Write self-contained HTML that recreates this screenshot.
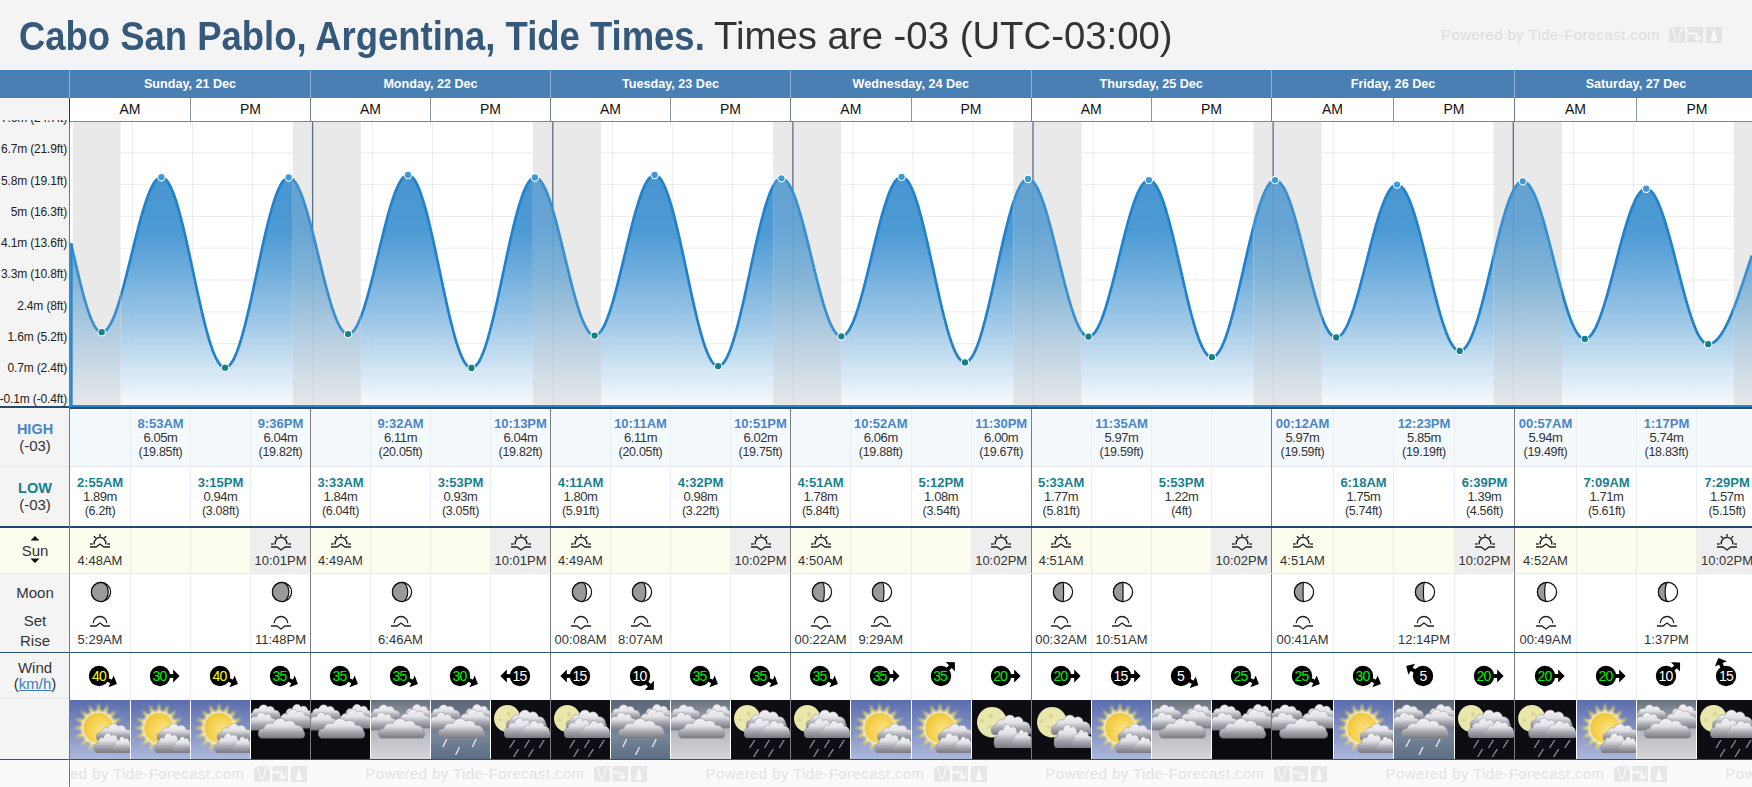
<!DOCTYPE html>
<html><head><meta charset="utf-8"><style>
html,body{margin:0;padding:0}
body{width:1752px;height:787px;overflow:hidden;position:relative;background:#f4f4f4;font-family:"Liberation Sans", sans-serif}
.t{position:absolute;text-align:center;white-space:nowrap}
svg{display:block}
</style></head><body>
<svg width="0" height="0" style="position:absolute">
<defs>
<linearGradient id="gA" x1="0" y1="0" x2="0" y2="1"><stop offset="0" stop-color="#5a6dae"/><stop offset="1" stop-color="#acb7db"/></linearGradient>
<linearGradient id="gG" x1="0" y1="0" x2="0" y2="1"><stop offset="0" stop-color="#66707e"/><stop offset="0.45" stop-color="#b3b5bc"/><stop offset="1" stop-color="#d6d6da"/></linearGradient>
<linearGradient id="gR" x1="0" y1="0" x2="0" y2="1"><stop offset="0" stop-color="#5c6777"/><stop offset="0.6" stop-color="#75879b"/><stop offset="1" stop-color="#5e6d81"/></linearGradient>
<filter id="blur1" x="-50%" y="-50%" width="200%" height="200%"><feGaussianBlur stdDeviation="0.9"/></filter><filter id="blur2" x="-50%" y="-50%" width="200%" height="200%"><feGaussianBlur stdDeviation="1.3"/></filter>
<radialGradient id="gS" cx="0.62" cy="0.6" r="0.65"><stop offset="0" stop-color="#fbe589"/><stop offset="1" stop-color="#f1c634"/></radialGradient>
<radialGradient id="gGlow" cx="0.5" cy="0.5" r="0.5"><stop offset="0.55" stop-color="#fff" stop-opacity="0.95"/><stop offset="0.75" stop-color="#fff6c0" stop-opacity="0.55"/><stop offset="1" stop-color="#fff6c0" stop-opacity="0"/></radialGradient>
<linearGradient id="gCl" x1="0" y1="0" x2="0" y2="1"><stop offset="0" stop-color="#f3f3f7"/><stop offset="0.38" stop-color="#e2e2e8"/><stop offset="0.66" stop-color="#a9aab1"/><stop offset="1" stop-color="#77787f"/></linearGradient>
<symbol id="cloud" viewBox="0 0 48 20" preserveAspectRatio="none">
<path d="M5,20 C1.5,20 0,17 0.5,14.5 C1,12 3,11 6,11 C7,7 11,5 15,6.5 C17,1.5 25,0 28,4.5 C31,2.5 37,3.5 38,8 C42,7.5 46,10 46,13.5 C48,15 48,20 43,20 Z" fill="url(#gCl)" stroke="#8c8c94" stroke-width="0.5"/>
</symbol>
<symbol id="clouds3" viewBox="0 0 60 40">
<use href="#cloud" x="-3" y="3" width="34" height="18"/>
<use href="#cloud" x="31" y="2.5" width="34" height="20"/>
<use href="#cloud" x="-5" y="10.5" width="33" height="20"/>
<use href="#cloud" x="25" y="7.5" width="38" height="21"/>
<use href="#cloud" x="7" y="16.5" width="48.5" height="22"/>
</symbol>
<symbol id="wA" viewBox="0 0 60 59">
<rect width="60" height="59" fill="url(#gA)"/>
<g transform="translate(28.5,28)">
<path d="M-2.54,-14.78 L0.00,-25.00 L2.54,-14.78 Z M3.31,-14.63 L9.57,-23.10 L8.00,-12.69 Z M8.66,-12.25 L17.68,-17.68 L12.25,-8.66 Z M12.69,-8.00 L23.10,-9.57 L14.63,-3.31 Z M14.78,-2.54 L25.00,0.00 L14.78,2.54 Z M14.63,3.31 L23.10,9.57 L12.69,8.00 Z M12.25,8.66 L17.68,17.68 L8.66,12.25 Z M8.00,12.69 L9.57,23.10 L3.31,14.63 Z M2.54,14.78 L0.00,25.00 L-2.54,14.78 Z M-3.31,14.63 L-9.57,23.10 L-8.00,12.69 Z M-8.66,12.25 L-17.68,17.68 L-12.25,8.66 Z M-12.69,8.00 L-23.10,9.57 L-14.63,3.31 Z M-14.78,2.54 L-25.00,0.00 L-14.78,-2.54 Z M-14.63,-3.31 L-23.10,-9.57 L-12.69,-8.00 Z M-12.25,-8.66 L-17.68,-17.68 L-8.66,-12.25 Z M-8.00,-12.69 L-9.57,-23.10 L-3.31,-14.63 Z" fill="#f2dc5a" filter="url(#blur1)"/>
<circle r="17" fill="#fffbe0" opacity="0.8" filter="url(#blur2)"/>
<circle r="15" fill="url(#gS)"/>
</g>
<use href="#cloud" x="26" y="22" width="38" height="19"/>
<use href="#cloud" x="24" y="31" width="30" height="22"/>
<use href="#cloud" x="42" y="35" width="22" height="18"/>
</symbol>
<symbol id="wN" viewBox="0 0 60 59">
<rect width="60" height="59" fill="#0a0b10"/>
<use href="#clouds3" x="0" y="0" width="60" height="40"/>
</symbol>
<symbol id="wG" viewBox="0 0 60 59">
<rect width="60" height="59" fill="url(#gG)"/>
<use href="#clouds3" x="0" y="0" width="60" height="40"/>
</symbol>
<symbol id="wR" viewBox="0 0 60 59">
<rect width="60" height="59" fill="url(#gR)"/>
<use href="#clouds3" x="0" y="0" width="60" height="40"/>
<g stroke="#ece6f2" stroke-width="1.4"><path d="M16,39 L12,47"/><path d="M29,47 L25,55"/><path d="M46,39 L42,47"/></g>
</symbol>
<symbol id="wMR" viewBox="0 0 60 59">
<rect width="60" height="59" fill="#0d0d13"/>
<circle cx="16.5" cy="18.5" r="13.4" fill="#e9e7ab"/>
<circle cx="9" cy="20" r="1.8" fill="#d8d69a"/><circle cx="18" cy="14" r="2.2" fill="#d8d69a"/>
<use href="#cloud" x="15" y="8" width="42" height="22"/>
<use href="#cloud" x="13" y="16" width="34" height="22"/>
<use href="#cloud" x="29" y="19" width="32" height="19"/>
<g stroke="#8d8a9e" stroke-width="1.4"><path d="M24,40 L19,48"/><path d="M39,40 L34,48"/><path d="M54,40 L49,48"/><path d="M28,49 L23,57"/><path d="M43,49 L38,57"/></g>
</symbol>
<symbol id="wMC" viewBox="0 0 60 59">
<rect width="60" height="59" fill="#0d0d13"/>
<circle cx="20.3" cy="22.2" r="15.2" fill="#e9e7ab"/>
<circle cx="10" cy="21" r="2" fill="#d8d69a"/><circle cx="19" cy="16" r="2.4" fill="#d8d69a"/><circle cx="17" cy="27" r="1.8" fill="#d8d69a"/>
<use href="#cloud" x="19" y="13" width="42" height="22"/>
<use href="#cloud" x="22" y="22" width="30" height="26"/>
<use href="#cloud" x="40" y="28" width="22" height="20"/>
</symbol>
</defs></svg>
<div class="t" style="left:19px;top:13px;height:46px;line-height:46px;text-align:left;white-space:nowrap;font-size:40px;font-weight:bold;color:#34597b;transform:scaleX(0.911);transform-origin:0 0">Cabo San Pablo, Argentina, Tide Times.</div>
<div class="t" style="left:714px;top:12px;height:46px;line-height:46px;text-align:left;white-space:nowrap;font-size:39.4px;color:#333;transform:scaleX(0.973);transform-origin:0 0">Times are -03 (UTC-03:00)</div>
<div class="t" style="left:1441px;top:26px;height:18px;line-height:18px;text-align:left;white-space:nowrap;font-size:15px;letter-spacing:0.4px;color:#dddddd">Powered by Tide-Forecast.com</div><svg style="position:absolute;left:1669px;top:27px" width="54" height="16" viewBox="0 0 54 16"><rect x="0" y="0" width="16" height="15.5" fill="#e3e3e3"/><rect x="18.5" y="0" width="15.5" height="15.5" fill="#e3e3e3"/><rect x="37" y="0" width="16" height="16" fill="#e3e3e3"/><path d="M0.8,1.5 C2,-0.5 3,0 4,3 L6.5,12 C7.5,14.5 8.5,14.5 9.5,12 L11.5,4 C12.5,0.5 14,0.5 15,4" fill="none" stroke="#fafafa" stroke-width="1.1"/><path d="M19,6.5 H26 C28,6.5 28.5,7.5 28.5,9 V11" fill="none" stroke="#fafafa" stroke-width="2"/><path d="M25.5,10 L28.5,13 L31.5,10" fill="none" stroke="#fafafa" stroke-width="1.8"/><path d="M45,1.5 L48.5,14 H41.5 Z" fill="#fafafa"/></svg>
<div style="position:absolute;left:0px;top:70px;width:1752px;height:28px;background:#4a7fb4"></div>
<div style="position:absolute;left:69px;top:70px;width:1px;height:28px;background:#8fb0d2"></div>
<div style="position:absolute;left:310px;top:70px;width:1px;height:28px;background:#8fb0d2"></div>
<div style="position:absolute;left:550px;top:70px;width:1px;height:28px;background:#8fb0d2"></div>
<div style="position:absolute;left:790px;top:70px;width:1px;height:28px;background:#8fb0d2"></div>
<div style="position:absolute;left:1031px;top:70px;width:1px;height:28px;background:#8fb0d2"></div>
<div style="position:absolute;left:1271px;top:70px;width:1px;height:28px;background:#8fb0d2"></div>
<div style="position:absolute;left:1514px;top:70px;width:1px;height:28px;background:#8fb0d2"></div>
<div style="position:absolute;left:1757px;top:70px;width:1px;height:28px;background:#8fb0d2"></div>
<div class="t" style="left:90.0px;top:76.0px;width:200px;height:16px;line-height:16px;color:#fff;font-weight:bold;font-size:12.6px">Sunday, 21 Dec</div>
<div class="t" style="left:330.5px;top:76.0px;width:200px;height:16px;line-height:16px;color:#fff;font-weight:bold;font-size:12.6px">Monday, 22 Dec</div>
<div class="t" style="left:570.5px;top:76.0px;width:200px;height:16px;line-height:16px;color:#fff;font-weight:bold;font-size:12.6px">Tuesday, 23 Dec</div>
<div class="t" style="left:810.8px;top:76.0px;width:200px;height:16px;line-height:16px;color:#fff;font-weight:bold;font-size:12.6px">Wednesday, 24 Dec</div>
<div class="t" style="left:1051.2px;top:76.0px;width:200px;height:16px;line-height:16px;color:#fff;font-weight:bold;font-size:12.6px">Thursday, 25 Dec</div>
<div class="t" style="left:1293.0px;top:76.0px;width:200px;height:16px;line-height:16px;color:#fff;font-weight:bold;font-size:12.6px">Friday, 26 Dec</div>
<div class="t" style="left:1536.0px;top:76.0px;width:200px;height:16px;line-height:16px;color:#fff;font-weight:bold;font-size:12.6px">Saturday, 27 Dec</div>
<div style="position:absolute;left:70px;top:98px;width:1682px;height:23px;background:#fff"></div>
<div style="position:absolute;left:69px;top:98px;width:1px;height:23px;background:#6f7f8f"></div>
<div style="position:absolute;left:190px;top:98px;width:1px;height:23px;background:#8797a7"></div>
<div style="position:absolute;left:310px;top:98px;width:1px;height:23px;background:#6f7f8f"></div>
<div style="position:absolute;left:430px;top:98px;width:1px;height:23px;background:#8797a7"></div>
<div style="position:absolute;left:550px;top:98px;width:1px;height:23px;background:#6f7f8f"></div>
<div style="position:absolute;left:670px;top:98px;width:1px;height:23px;background:#8797a7"></div>
<div style="position:absolute;left:790px;top:98px;width:1px;height:23px;background:#6f7f8f"></div>
<div style="position:absolute;left:911px;top:98px;width:1px;height:23px;background:#8797a7"></div>
<div style="position:absolute;left:1031px;top:98px;width:1px;height:23px;background:#6f7f8f"></div>
<div style="position:absolute;left:1151px;top:98px;width:1px;height:23px;background:#8797a7"></div>
<div style="position:absolute;left:1271px;top:98px;width:1px;height:23px;background:#6f7f8f"></div>
<div style="position:absolute;left:1393px;top:98px;width:1px;height:23px;background:#8797a7"></div>
<div style="position:absolute;left:1514px;top:98px;width:1px;height:23px;background:#6f7f8f"></div>
<div style="position:absolute;left:1636px;top:98px;width:1px;height:23px;background:#8797a7"></div>
<div style="position:absolute;left:1757px;top:98px;width:1px;height:23px;background:#6f7f8f"></div>
<div class="t" style="left:100.0px;top:100.8px;width:60px;height:16px;line-height:16px;color:#111;font-size:14px">AM</div>
<div class="t" style="left:220.5px;top:100.8px;width:60px;height:16px;line-height:16px;color:#111;font-size:14px">PM</div>
<div class="t" style="left:340.5px;top:100.8px;width:60px;height:16px;line-height:16px;color:#111;font-size:14px">AM</div>
<div class="t" style="left:460.5px;top:100.8px;width:60px;height:16px;line-height:16px;color:#111;font-size:14px">PM</div>
<div class="t" style="left:580.5px;top:100.8px;width:60px;height:16px;line-height:16px;color:#111;font-size:14px">AM</div>
<div class="t" style="left:700.5px;top:100.8px;width:60px;height:16px;line-height:16px;color:#111;font-size:14px">PM</div>
<div class="t" style="left:820.8px;top:100.8px;width:60px;height:16px;line-height:16px;color:#111;font-size:14px">AM</div>
<div class="t" style="left:941.0px;top:100.8px;width:60px;height:16px;line-height:16px;color:#111;font-size:14px">PM</div>
<div class="t" style="left:1061.2px;top:100.8px;width:60px;height:16px;line-height:16px;color:#111;font-size:14px">AM</div>
<div class="t" style="left:1181.5px;top:100.8px;width:60px;height:16px;line-height:16px;color:#111;font-size:14px">PM</div>
<div class="t" style="left:1302.5px;top:100.8px;width:60px;height:16px;line-height:16px;color:#111;font-size:14px">AM</div>
<div class="t" style="left:1424.0px;top:100.8px;width:60px;height:16px;line-height:16px;color:#111;font-size:14px">PM</div>
<div class="t" style="left:1545.5px;top:100.8px;width:60px;height:16px;line-height:16px;color:#111;font-size:14px">AM</div>
<div class="t" style="left:1667.0px;top:100.8px;width:60px;height:16px;line-height:16px;color:#111;font-size:14px">PM</div>
<div style="position:absolute;left:69px;top:121px;width:1683px;height:1px;background:#858585"></div>
<svg style="position:absolute;left:0;top:122px" width="1752" height="286" viewBox="0 122 1752 286">
<defs><linearGradient id="tg" gradientUnits="userSpaceOnUse" x1="0" y1="170" x2="0" y2="406"><stop offset="0.03" stop-color="#3b8ecf"/><stop offset="0.254" stop-color="#3f92d0"/><stop offset="0.39" stop-color="#5ba2d8"/><stop offset="0.66" stop-color="#9cc6e6"/><stop offset="0.847" stop-color="#cfe4f3"/><stop offset="1" stop-color="#f7fafe"/></linearGradient><linearGradient id="ng" gradientUnits="userSpaceOnUse" x1="0" y1="180" x2="0" y2="406"><stop offset="0" stop-color="#589cd0"/><stop offset="0.22" stop-color="#5fa0d2"/><stop offset="0.44" stop-color="#7db1d6"/><stop offset="0.66" stop-color="#aac8de"/><stop offset="0.885" stop-color="#d4dee6"/><stop offset="1" stop-color="#e6e8ea"/></linearGradient><clipPath id="nc"><rect x="72.90" y="122" width="47.63" height="286"/><rect x="292.78" y="122" width="68.04" height="286"/><rect x="532.91" y="122" width="68.04" height="286"/><rect x="773.20" y="122" width="68.04" height="286"/><rect x="1013.33" y="122" width="68.20" height="286"/><rect x="1253.46" y="122" width="68.20" height="286"/><rect x="1493.59" y="122" width="68.37" height="286"/><rect x="1733.71" y="122" width="18.29" height="286"/></clipPath><clipPath id="dc"><rect x="120.53" y="122" width="172.26" height="286"/><rect x="360.82" y="122" width="172.09" height="286"/><rect x="600.95" y="122" width="172.26" height="286"/><rect x="841.24" y="122" width="172.09" height="286"/><rect x="1081.53" y="122" width="171.92" height="286"/><rect x="1321.66" y="122" width="171.92" height="286"/><rect x="1561.96" y="122" width="171.76" height="286"/><rect x="60" y="122" width="12.90" height="286"/></clipPath></defs>
<rect x="70" y="122" width="1682" height="284" fill="#fff"/>
<line x1="72" x2="1752" y1="375.4" y2="375.4" stroke="#000" stroke-opacity="0.075" stroke-width="1"/>
<line x1="72" x2="1752" y1="343.6" y2="343.6" stroke="#000" stroke-opacity="0.075" stroke-width="1"/>
<line x1="72" x2="1752" y1="311.8" y2="311.8" stroke="#000" stroke-opacity="0.075" stroke-width="1"/>
<line x1="72" x2="1752" y1="280.0" y2="280.0" stroke="#000" stroke-opacity="0.075" stroke-width="1"/>
<line x1="72" x2="1752" y1="248.2" y2="248.2" stroke="#000" stroke-opacity="0.075" stroke-width="1"/>
<line x1="72" x2="1752" y1="216.4" y2="216.4" stroke="#000" stroke-opacity="0.075" stroke-width="1"/>
<line x1="72" x2="1752" y1="184.6" y2="184.6" stroke="#000" stroke-opacity="0.075" stroke-width="1"/>
<line x1="72" x2="1752" y1="152.8" y2="152.8" stroke="#000" stroke-opacity="0.075" stroke-width="1"/>
<line x1="72" x2="1752" y1="121.0" y2="121.0" stroke="#000" stroke-opacity="0.075" stroke-width="1"/>
<line x1="132.5" x2="132.5" y1="122" y2="406" stroke="#000" stroke-opacity="0.075" stroke-width="1"/>
<line x1="192.6" x2="192.6" y1="122" y2="406" stroke="#000" stroke-opacity="0.075" stroke-width="1"/>
<line x1="252.6" x2="252.6" y1="122" y2="406" stroke="#000" stroke-opacity="0.075" stroke-width="1"/>
<line x1="372.7" x2="372.7" y1="122" y2="406" stroke="#000" stroke-opacity="0.075" stroke-width="1"/>
<line x1="432.7" x2="432.7" y1="122" y2="406" stroke="#000" stroke-opacity="0.075" stroke-width="1"/>
<line x1="492.7" x2="492.7" y1="122" y2="406" stroke="#000" stroke-opacity="0.075" stroke-width="1"/>
<line x1="612.8" x2="612.8" y1="122" y2="406" stroke="#000" stroke-opacity="0.075" stroke-width="1"/>
<line x1="672.8" x2="672.8" y1="122" y2="406" stroke="#000" stroke-opacity="0.075" stroke-width="1"/>
<line x1="732.8" x2="732.8" y1="122" y2="406" stroke="#000" stroke-opacity="0.075" stroke-width="1"/>
<line x1="852.9" x2="852.9" y1="122" y2="406" stroke="#000" stroke-opacity="0.075" stroke-width="1"/>
<line x1="912.9" x2="912.9" y1="122" y2="406" stroke="#000" stroke-opacity="0.075" stroke-width="1"/>
<line x1="973.0" x2="973.0" y1="122" y2="406" stroke="#000" stroke-opacity="0.075" stroke-width="1"/>
<line x1="1093.0" x2="1093.0" y1="122" y2="406" stroke="#000" stroke-opacity="0.075" stroke-width="1"/>
<line x1="1153.1" x2="1153.1" y1="122" y2="406" stroke="#000" stroke-opacity="0.075" stroke-width="1"/>
<line x1="1213.1" x2="1213.1" y1="122" y2="406" stroke="#000" stroke-opacity="0.075" stroke-width="1"/>
<line x1="1333.2" x2="1333.2" y1="122" y2="406" stroke="#000" stroke-opacity="0.075" stroke-width="1"/>
<line x1="1393.2" x2="1393.2" y1="122" y2="406" stroke="#000" stroke-opacity="0.075" stroke-width="1"/>
<line x1="1453.2" x2="1453.2" y1="122" y2="406" stroke="#000" stroke-opacity="0.075" stroke-width="1"/>
<line x1="1573.3" x2="1573.3" y1="122" y2="406" stroke="#000" stroke-opacity="0.075" stroke-width="1"/>
<line x1="1633.3" x2="1633.3" y1="122" y2="406" stroke="#000" stroke-opacity="0.075" stroke-width="1"/>
<line x1="1693.4" x2="1693.4" y1="122" y2="406" stroke="#000" stroke-opacity="0.075" stroke-width="1"/>
<rect x="72.90" y="122" width="47.63" height="284" fill="#e9e9e9"/>
<rect x="292.78" y="122" width="68.04" height="284" fill="#e9e9e9"/>
<rect x="532.91" y="122" width="68.04" height="284" fill="#e9e9e9"/>
<rect x="773.20" y="122" width="68.04" height="284" fill="#e9e9e9"/>
<rect x="1013.33" y="122" width="68.20" height="284" fill="#e9e9e9"/>
<rect x="1253.46" y="122" width="68.20" height="284" fill="#e9e9e9"/>
<rect x="1493.59" y="122" width="68.37" height="284" fill="#e9e9e9"/>
<rect x="1733.71" y="122" width="18.29" height="284" fill="#e9e9e9"/>
<line x1="312.6" x2="312.6" y1="122" y2="406" stroke="#566f88" stroke-width="1.3"/>
<line x1="552.8" x2="552.8" y1="122" y2="406" stroke="#566f88" stroke-width="1.3"/>
<line x1="792.9" x2="792.9" y1="122" y2="406" stroke="#566f88" stroke-width="1.3"/>
<line x1="1033.0" x2="1033.0" y1="122" y2="406" stroke="#566f88" stroke-width="1.3"/>
<line x1="1273.1" x2="1273.1" y1="122" y2="406" stroke="#566f88" stroke-width="1.3"/>
<line x1="1513.3" x2="1513.3" y1="122" y2="406" stroke="#566f88" stroke-width="1.3"/>
<g clip-path="url(#dc)"><path d="M71,406 L71.00,243.43 L73.00,252.03 L75.00,260.67 L77.00,269.24 L79.00,277.65 L81.01,285.77 L83.01,293.51 L85.01,300.77 L87.01,307.46 L89.01,313.48 L91.01,318.77 L93.01,323.25 L95.01,326.88 L97.01,329.60 L99.01,331.37 L101.02,332.19 L103.02,332.05 L105.02,331.05 L107.02,329.21 L109.02,326.53 L111.02,323.07 L113.02,318.84 L115.02,313.91 L117.02,308.32 L119.03,302.13 L121.03,295.42 L123.03,288.26 L125.03,280.72 L127.03,272.90 L129.03,264.87 L131.03,256.74 L133.03,248.58 L135.03,240.48 L137.03,232.55 L139.04,224.86 L141.04,217.50 L143.04,210.56 L145.04,204.10 L147.04,198.20 L149.04,192.93 L151.04,188.35 L153.04,184.50 L155.04,181.42 L157.05,179.16 L159.05,177.74 L161.05,177.17 L163.05,177.48 L165.05,178.71 L167.05,180.86 L169.05,183.90 L171.05,187.80 L173.05,192.52 L175.06,198.02 L177.06,204.24 L179.06,211.13 L181.06,218.61 L183.06,226.61 L185.06,235.07 L187.06,243.88 L189.06,252.97 L191.06,262.25 L193.06,271.63 L195.07,281.02 L197.07,290.33 L199.07,299.46 L201.07,308.32 L203.07,316.84 L205.07,324.92 L207.07,332.50 L209.07,339.49 L211.07,345.82 L213.08,351.44 L215.08,356.30 L217.08,360.33 L219.08,363.51 L221.08,365.81 L223.08,367.19 L225.08,367.66 L227.08,367.19 L229.08,365.80 L231.08,363.50 L233.09,360.31 L235.09,356.26 L237.09,351.39 L239.09,345.75 L241.09,339.39 L243.09,332.39 L245.09,324.79 L247.09,316.69 L249.09,308.15 L251.10,299.27 L253.10,290.13 L255.10,280.81 L257.10,271.41 L259.10,262.03 L261.10,252.75 L263.10,243.66 L265.10,234.86 L267.10,226.42 L269.10,218.44 L271.11,210.99 L273.11,204.13 L275.11,197.95 L277.11,192.50 L279.11,187.84 L281.11,184.00 L283.11,181.03 L285.11,178.95 L287.11,177.79 L289.12,177.56 L291.12,178.21 L293.12,179.73 L295.12,182.10 L297.12,185.28 L299.12,189.26 L301.12,193.97 L303.12,199.38 L305.12,205.41 L307.13,212.00 L309.13,219.09 L311.13,226.58 L313.13,234.40 L315.13,242.45 L317.13,250.66 L319.13,258.92 L321.13,267.15 L323.13,275.25 L325.13,283.13 L327.14,290.72 L329.14,297.91 L331.14,304.63 L333.14,310.81 L335.14,316.38 L337.14,321.27 L339.14,325.43 L341.14,328.82 L343.14,331.39 L345.15,333.13 L347.15,334.00 L349.15,333.99 L351.15,333.12 L353.15,331.38 L355.15,328.79 L357.15,325.38 L359.15,321.19 L361.15,316.27 L363.15,310.66 L365.16,304.44 L367.16,297.67 L369.16,290.42 L371.16,282.78 L373.16,274.82 L375.16,266.64 L377.16,258.33 L379.16,249.98 L381.16,241.67 L383.17,233.51 L385.17,225.58 L387.17,217.96 L389.17,210.75 L391.17,204.03 L393.17,197.85 L395.17,192.31 L397.17,187.44 L399.17,183.32 L401.17,179.98 L403.18,177.46 L405.18,175.80 L407.18,174.99 L409.18,175.08 L411.18,176.10 L413.18,178.06 L415.18,180.93 L417.18,184.69 L419.18,189.29 L421.19,194.70 L423.19,200.86 L425.19,207.71 L427.19,215.19 L429.19,223.21 L431.19,231.71 L433.19,240.60 L435.19,249.79 L437.19,259.19 L439.20,268.71 L441.20,278.26 L443.20,287.74 L445.20,297.06 L447.20,306.13 L449.20,314.87 L451.20,323.17 L453.20,330.98 L455.20,338.20 L457.20,344.77 L459.21,350.62 L461.21,355.69 L463.21,359.95 L465.21,363.33 L467.21,365.82 L469.21,367.39 L471.21,368.02 L473.21,367.70 L475.21,366.46 L477.22,364.29 L479.22,361.22 L481.22,357.28 L483.22,352.51 L485.22,346.96 L487.22,340.68 L489.22,333.73 L491.22,326.18 L493.22,318.11 L495.22,309.59 L497.23,300.70 L499.23,291.55 L501.23,282.21 L503.23,272.78 L505.23,263.34 L507.23,254.00 L509.23,244.85 L511.23,235.97 L513.23,227.45 L515.24,219.37 L517.24,211.82 L519.24,204.88 L521.24,198.59 L523.24,193.04 L525.24,188.27 L527.24,184.34 L529.24,181.27 L531.24,179.10 L533.24,177.86 L535.25,177.54 L537.25,178.12 L539.25,179.58 L541.25,181.88 L543.25,185.01 L545.25,188.94 L547.25,193.61 L549.25,198.98 L551.25,205.00 L553.26,211.58 L555.26,218.66 L557.26,226.16 L559.26,233.99 L561.26,242.08 L563.26,250.33 L565.26,258.65 L567.26,266.94 L569.26,275.12 L571.27,283.09 L573.27,290.77 L575.27,298.07 L577.27,304.91 L579.27,311.22 L581.27,316.91 L583.27,321.94 L585.27,326.25 L587.27,329.78 L589.27,332.50 L591.28,334.38 L593.28,335.40 L595.28,335.55 L597.28,334.81 L599.28,333.21 L601.28,330.75 L603.28,327.46 L605.28,323.38 L607.28,318.55 L609.29,313.04 L611.29,306.88 L613.29,300.17 L615.29,292.96 L617.29,285.34 L619.29,277.39 L621.29,269.19 L623.29,260.84 L625.29,252.44 L627.29,244.06 L629.30,235.81 L631.30,227.76 L633.30,220.02 L635.30,212.67 L637.30,205.78 L639.30,199.44 L641.30,193.70 L643.30,188.64 L645.30,184.31 L647.31,180.76 L649.31,178.03 L651.31,176.14 L653.31,175.11 L655.31,174.97 L657.31,175.75 L659.31,177.46 L661.31,180.08 L663.31,183.58 L665.31,187.94 L667.32,193.10 L669.32,199.02 L671.32,205.64 L673.32,212.90 L675.32,220.71 L677.32,229.02 L679.32,237.73 L681.32,246.77 L683.32,256.03 L685.33,265.44 L687.33,274.90 L689.33,284.31 L691.33,293.59 L693.33,302.65 L695.33,311.39 L697.33,319.73 L699.33,327.59 L701.33,334.89 L703.33,341.56 L705.34,347.54 L707.34,352.77 L709.34,357.19 L711.34,360.76 L713.34,363.45 L715.34,365.23 L717.34,366.09 L719.34,366.01 L721.34,365.00 L723.35,363.08 L725.35,360.25 L727.35,356.56 L729.35,352.04 L731.35,346.72 L733.35,340.67 L735.35,333.94 L737.35,326.61 L739.35,318.73 L741.36,310.40 L743.36,301.68 L745.36,292.68 L747.36,283.47 L749.36,274.16 L751.36,264.82 L753.36,255.56 L755.36,246.46 L757.36,237.61 L759.36,229.11 L761.37,221.04 L763.37,213.47 L765.37,206.48 L767.37,200.14 L769.37,194.51 L771.37,189.65 L773.37,185.61 L775.37,182.42 L777.37,180.13 L779.38,178.74 L781.38,178.27 L783.38,178.71 L785.38,180.00 L787.38,182.14 L789.38,185.11 L791.38,188.86 L793.38,193.37 L795.38,198.58 L797.38,204.43 L799.39,210.86 L801.39,217.79 L803.39,225.17 L805.39,232.89 L807.39,240.88 L809.39,249.05 L811.39,257.31 L813.39,265.57 L815.39,273.74 L817.40,281.73 L819.40,289.46 L821.40,296.83 L823.40,303.77 L825.40,310.19 L827.40,316.04 L829.40,321.25 L831.40,325.75 L833.40,329.51 L835.40,332.47 L837.41,334.62 L839.41,335.91 L841.41,336.34 L843.41,335.91 L845.41,334.61 L847.41,332.46 L849.41,329.48 L851.41,325.71 L853.41,321.19 L855.42,315.96 L857.42,310.08 L859.42,303.62 L861.42,296.65 L863.42,289.25 L865.42,281.48 L867.42,273.45 L869.42,265.23 L871.42,256.91 L873.43,248.60 L875.43,240.36 L877.43,232.31 L879.43,224.52 L881.43,217.08 L883.43,210.07 L885.43,203.56 L887.43,197.64 L889.43,192.35 L891.43,187.77 L893.44,183.93 L895.44,180.89 L897.44,178.67 L899.44,177.29 L901.44,176.79 L903.44,177.17 L905.44,178.45 L907.44,180.64 L909.44,183.70 L911.45,187.60 L913.45,192.32 L915.45,197.79 L917.45,203.97 L919.45,210.79 L921.45,218.19 L923.45,226.10 L925.45,234.44 L927.45,243.12 L929.45,252.06 L931.46,261.18 L933.46,270.37 L935.46,279.56 L937.46,288.66 L939.46,297.56 L941.46,306.19 L943.46,314.46 L945.46,322.29 L947.46,329.60 L949.47,336.33 L951.47,342.39 L953.47,347.74 L955.47,352.32 L957.47,356.09 L959.47,359.00 L961.47,361.04 L963.47,362.18 L965.47,362.41 L967.47,361.73 L969.48,360.14 L971.48,357.66 L973.48,354.32 L975.48,350.15 L977.48,345.19 L979.48,339.49 L981.48,333.10 L983.48,326.10 L985.48,318.55 L987.49,310.52 L989.49,302.09 L991.49,293.36 L993.49,284.39 L995.49,275.30 L997.49,266.15 L999.49,257.06 L1001.49,248.10 L1003.49,239.36 L1005.50,230.93 L1007.50,222.91 L1009.50,215.35 L1011.50,208.35 L1013.50,201.96 L1015.50,196.26 L1017.50,191.30 L1019.50,187.13 L1021.50,183.79 L1023.50,181.32 L1025.51,179.73 L1027.51,179.05 L1029.51,179.26 L1031.51,180.32 L1033.51,182.21 L1035.51,184.93 L1037.51,188.42 L1039.51,192.67 L1041.51,197.62 L1043.52,203.21 L1045.52,209.40 L1047.52,216.11 L1049.52,223.26 L1051.52,230.80 L1053.52,238.62 L1055.52,246.65 L1057.52,254.80 L1059.52,262.98 L1061.52,271.11 L1063.53,279.10 L1065.53,286.86 L1067.53,294.30 L1069.53,301.36 L1071.53,307.94 L1073.53,313.98 L1075.53,319.42 L1077.53,324.20 L1079.53,328.26 L1081.54,331.56 L1083.54,334.07 L1085.54,335.76 L1087.54,336.61 L1089.54,336.61 L1091.54,335.76 L1093.54,334.07 L1095.54,331.57 L1097.54,328.27 L1099.54,324.22 L1101.55,319.45 L1103.55,314.02 L1105.55,307.99 L1107.55,301.42 L1109.55,294.38 L1111.55,286.96 L1113.55,279.23 L1115.55,271.27 L1117.55,263.17 L1119.56,255.02 L1121.56,246.91 L1123.56,238.92 L1125.56,231.14 L1127.56,223.66 L1129.56,216.56 L1131.56,209.91 L1133.56,203.78 L1135.56,198.25 L1137.56,193.37 L1139.57,189.20 L1141.57,185.77 L1143.57,183.13 L1145.57,181.31 L1147.57,180.33 L1149.57,180.19 L1151.57,180.92 L1153.57,182.53 L1155.57,184.99 L1157.58,188.29 L1159.58,192.38 L1161.58,197.23 L1163.58,202.79 L1165.58,209.01 L1167.58,215.82 L1169.58,223.16 L1171.58,230.94 L1173.58,239.11 L1175.59,247.56 L1177.59,256.23 L1179.59,265.02 L1181.59,273.84 L1183.59,282.62 L1185.59,291.26 L1187.59,299.67 L1189.59,307.77 L1191.59,315.49 L1193.59,322.74 L1195.60,329.45 L1197.60,335.56 L1199.60,341.00 L1201.60,345.73 L1203.60,349.69 L1205.60,352.85 L1207.60,355.16 L1209.60,356.62 L1211.60,357.21 L1213.61,356.91 L1215.61,355.75 L1217.61,353.72 L1219.61,350.85 L1221.61,347.17 L1223.61,342.72 L1225.61,337.53 L1227.61,331.66 L1229.61,325.17 L1231.61,318.12 L1233.62,310.59 L1235.62,302.63 L1237.62,294.35 L1239.62,285.81 L1241.62,277.09 L1243.62,268.30 L1245.62,259.51 L1247.62,250.81 L1249.62,242.29 L1251.63,234.03 L1253.63,226.11 L1255.63,218.61 L1257.63,211.60 L1259.63,205.16 L1261.63,199.35 L1263.63,194.23 L1265.63,189.84 L1267.63,186.23 L1269.63,183.43 L1271.64,181.48 L1273.64,180.38 L1275.64,180.16 L1277.64,180.79 L1279.64,182.24 L1281.64,184.51 L1283.64,187.56 L1285.64,191.36 L1287.64,195.89 L1289.65,201.07 L1291.65,206.87 L1293.65,213.22 L1295.65,220.06 L1297.65,227.30 L1299.65,234.88 L1301.65,242.71 L1303.65,250.71 L1305.65,258.80 L1307.66,266.89 L1309.66,274.89 L1311.66,282.72 L1313.66,290.30 L1315.66,297.55 L1317.66,304.38 L1319.66,310.73 L1321.66,316.53 L1323.66,321.72 L1325.66,326.24 L1327.67,330.04 L1329.67,333.09 L1331.67,335.36 L1333.67,336.81 L1335.67,337.43 L1337.67,337.23 L1339.67,336.21 L1341.67,334.40 L1343.67,331.80 L1345.68,328.44 L1347.68,324.37 L1349.68,319.62 L1351.68,314.25 L1353.68,308.31 L1355.68,301.87 L1357.68,294.99 L1359.68,287.75 L1361.68,280.22 L1363.68,272.49 L1365.69,264.64 L1367.69,256.75 L1369.69,248.91 L1371.69,241.19 L1373.69,233.69 L1375.69,226.48 L1377.69,219.63 L1379.69,213.23 L1381.69,207.34 L1383.70,202.02 L1385.70,197.32 L1387.70,193.31 L1389.70,190.02 L1391.70,187.49 L1393.70,185.74 L1395.70,184.79 L1397.70,184.66 L1399.70,185.36 L1401.70,186.88 L1403.71,189.22 L1405.71,192.34 L1407.71,196.22 L1409.71,200.83 L1411.71,206.10 L1413.71,211.99 L1415.71,218.44 L1417.71,225.39 L1419.71,232.76 L1421.72,240.49 L1423.72,248.49 L1425.72,256.68 L1427.72,264.98 L1429.72,273.31 L1431.72,281.58 L1433.72,289.72 L1435.72,297.63 L1437.72,305.25 L1439.73,312.49 L1441.73,319.27 L1443.73,325.55 L1445.73,331.24 L1447.73,336.29 L1449.73,340.65 L1451.73,344.29 L1453.73,347.15 L1455.73,349.22 L1457.73,350.46 L1459.74,350.88 L1461.74,350.46 L1463.74,349.20 L1465.74,347.11 L1467.74,344.22 L1469.74,340.55 L1471.74,336.14 L1473.74,331.04 L1475.74,325.29 L1477.75,318.95 L1479.75,312.08 L1481.75,304.76 L1483.75,297.05 L1485.75,289.04 L1487.75,280.79 L1489.75,272.40 L1491.75,263.95 L1493.75,255.52 L1495.75,247.19 L1497.76,239.05 L1499.76,231.18 L1501.76,223.66 L1503.76,216.56 L1505.76,209.95 L1507.76,203.89 L1509.76,198.46 L1511.76,193.70 L1513.76,189.65 L1515.77,186.37 L1517.77,183.88 L1519.77,182.20 L1521.77,181.36 L1523.77,181.36 L1525.77,182.17 L1527.77,183.77 L1529.77,186.17 L1531.77,189.32 L1533.77,193.19 L1535.78,197.76 L1537.78,202.96 L1539.78,208.75 L1541.78,215.06 L1543.78,221.84 L1545.78,229.01 L1547.78,236.50 L1549.78,244.24 L1551.78,252.13 L1553.79,260.11 L1555.79,268.08 L1557.79,275.98 L1559.79,283.71 L1561.79,291.20 L1563.79,298.37 L1565.79,305.15 L1567.79,311.47 L1569.79,317.25 L1571.80,322.46 L1573.80,327.02 L1575.80,330.89 L1577.80,334.04 L1579.80,336.43 L1581.80,338.04 L1583.80,338.85 L1585.80,338.85 L1587.80,338.07 L1589.80,336.50 L1591.81,334.17 L1593.81,331.11 L1595.81,327.34 L1597.81,322.90 L1599.81,317.84 L1601.81,312.22 L1603.81,306.09 L1605.81,299.52 L1607.81,292.57 L1609.82,285.32 L1611.82,277.85 L1613.82,270.23 L1615.82,262.54 L1617.82,254.87 L1619.82,247.28 L1621.82,239.88 L1623.82,232.72 L1625.82,225.89 L1627.82,219.46 L1629.83,213.49 L1631.83,208.06 L1633.83,203.20 L1635.83,198.98 L1637.83,195.45 L1639.83,192.63 L1641.83,190.55 L1643.83,189.25 L1645.83,188.72 L1647.84,188.99 L1649.84,190.05 L1651.84,191.90 L1653.84,194.51 L1655.84,197.86 L1657.84,201.91 L1659.84,206.63 L1661.84,211.96 L1663.84,217.84 L1665.84,224.23 L1667.85,231.05 L1669.85,238.23 L1671.85,245.71 L1673.85,253.39 L1675.85,261.21 L1677.85,269.08 L1679.85,276.93 L1681.85,284.67 L1683.85,292.22 L1685.86,299.50 L1687.86,306.45 L1689.86,312.99 L1691.86,319.05 L1693.86,324.57 L1695.86,329.49 L1697.86,333.76 L1699.86,337.35 L1701.86,340.21 L1703.86,342.31 L1705.87,343.63 L1707.87,344.16 L1709.87,344.00 L1711.87,343.37 L1713.87,342.25 L1715.87,340.68 L1717.87,338.64 L1719.87,336.16 L1721.87,333.25 L1723.88,329.94 L1725.88,326.22 L1727.88,322.15 L1729.88,317.72 L1731.88,312.99 L1733.88,307.96 L1735.88,302.68 L1737.88,297.18 L1739.88,291.48 L1741.89,285.63 L1743.89,279.67 L1745.89,273.62 L1747.89,267.52 L1749.89,261.42 L1751.89,255.34 L1754,406 Z" fill="url(#tg)" fill-opacity="0.93"/><path d="M71.00,243.43 L73.00,252.03 L75.00,260.67 L77.00,269.24 L79.00,277.65 L81.01,285.77 L83.01,293.51 L85.01,300.77 L87.01,307.46 L89.01,313.48 L91.01,318.77 L93.01,323.25 L95.01,326.88 L97.01,329.60 L99.01,331.37 L101.02,332.19 L103.02,332.05 L105.02,331.05 L107.02,329.21 L109.02,326.53 L111.02,323.07 L113.02,318.84 L115.02,313.91 L117.02,308.32 L119.03,302.13 L121.03,295.42 L123.03,288.26 L125.03,280.72 L127.03,272.90 L129.03,264.87 L131.03,256.74 L133.03,248.58 L135.03,240.48 L137.03,232.55 L139.04,224.86 L141.04,217.50 L143.04,210.56 L145.04,204.10 L147.04,198.20 L149.04,192.93 L151.04,188.35 L153.04,184.50 L155.04,181.42 L157.05,179.16 L159.05,177.74 L161.05,177.17 L163.05,177.48 L165.05,178.71 L167.05,180.86 L169.05,183.90 L171.05,187.80 L173.05,192.52 L175.06,198.02 L177.06,204.24 L179.06,211.13 L181.06,218.61 L183.06,226.61 L185.06,235.07 L187.06,243.88 L189.06,252.97 L191.06,262.25 L193.06,271.63 L195.07,281.02 L197.07,290.33 L199.07,299.46 L201.07,308.32 L203.07,316.84 L205.07,324.92 L207.07,332.50 L209.07,339.49 L211.07,345.82 L213.08,351.44 L215.08,356.30 L217.08,360.33 L219.08,363.51 L221.08,365.81 L223.08,367.19 L225.08,367.66 L227.08,367.19 L229.08,365.80 L231.08,363.50 L233.09,360.31 L235.09,356.26 L237.09,351.39 L239.09,345.75 L241.09,339.39 L243.09,332.39 L245.09,324.79 L247.09,316.69 L249.09,308.15 L251.10,299.27 L253.10,290.13 L255.10,280.81 L257.10,271.41 L259.10,262.03 L261.10,252.75 L263.10,243.66 L265.10,234.86 L267.10,226.42 L269.10,218.44 L271.11,210.99 L273.11,204.13 L275.11,197.95 L277.11,192.50 L279.11,187.84 L281.11,184.00 L283.11,181.03 L285.11,178.95 L287.11,177.79 L289.12,177.56 L291.12,178.21 L293.12,179.73 L295.12,182.10 L297.12,185.28 L299.12,189.26 L301.12,193.97 L303.12,199.38 L305.12,205.41 L307.13,212.00 L309.13,219.09 L311.13,226.58 L313.13,234.40 L315.13,242.45 L317.13,250.66 L319.13,258.92 L321.13,267.15 L323.13,275.25 L325.13,283.13 L327.14,290.72 L329.14,297.91 L331.14,304.63 L333.14,310.81 L335.14,316.38 L337.14,321.27 L339.14,325.43 L341.14,328.82 L343.14,331.39 L345.15,333.13 L347.15,334.00 L349.15,333.99 L351.15,333.12 L353.15,331.38 L355.15,328.79 L357.15,325.38 L359.15,321.19 L361.15,316.27 L363.15,310.66 L365.16,304.44 L367.16,297.67 L369.16,290.42 L371.16,282.78 L373.16,274.82 L375.16,266.64 L377.16,258.33 L379.16,249.98 L381.16,241.67 L383.17,233.51 L385.17,225.58 L387.17,217.96 L389.17,210.75 L391.17,204.03 L393.17,197.85 L395.17,192.31 L397.17,187.44 L399.17,183.32 L401.17,179.98 L403.18,177.46 L405.18,175.80 L407.18,174.99 L409.18,175.08 L411.18,176.10 L413.18,178.06 L415.18,180.93 L417.18,184.69 L419.18,189.29 L421.19,194.70 L423.19,200.86 L425.19,207.71 L427.19,215.19 L429.19,223.21 L431.19,231.71 L433.19,240.60 L435.19,249.79 L437.19,259.19 L439.20,268.71 L441.20,278.26 L443.20,287.74 L445.20,297.06 L447.20,306.13 L449.20,314.87 L451.20,323.17 L453.20,330.98 L455.20,338.20 L457.20,344.77 L459.21,350.62 L461.21,355.69 L463.21,359.95 L465.21,363.33 L467.21,365.82 L469.21,367.39 L471.21,368.02 L473.21,367.70 L475.21,366.46 L477.22,364.29 L479.22,361.22 L481.22,357.28 L483.22,352.51 L485.22,346.96 L487.22,340.68 L489.22,333.73 L491.22,326.18 L493.22,318.11 L495.22,309.59 L497.23,300.70 L499.23,291.55 L501.23,282.21 L503.23,272.78 L505.23,263.34 L507.23,254.00 L509.23,244.85 L511.23,235.97 L513.23,227.45 L515.24,219.37 L517.24,211.82 L519.24,204.88 L521.24,198.59 L523.24,193.04 L525.24,188.27 L527.24,184.34 L529.24,181.27 L531.24,179.10 L533.24,177.86 L535.25,177.54 L537.25,178.12 L539.25,179.58 L541.25,181.88 L543.25,185.01 L545.25,188.94 L547.25,193.61 L549.25,198.98 L551.25,205.00 L553.26,211.58 L555.26,218.66 L557.26,226.16 L559.26,233.99 L561.26,242.08 L563.26,250.33 L565.26,258.65 L567.26,266.94 L569.26,275.12 L571.27,283.09 L573.27,290.77 L575.27,298.07 L577.27,304.91 L579.27,311.22 L581.27,316.91 L583.27,321.94 L585.27,326.25 L587.27,329.78 L589.27,332.50 L591.28,334.38 L593.28,335.40 L595.28,335.55 L597.28,334.81 L599.28,333.21 L601.28,330.75 L603.28,327.46 L605.28,323.38 L607.28,318.55 L609.29,313.04 L611.29,306.88 L613.29,300.17 L615.29,292.96 L617.29,285.34 L619.29,277.39 L621.29,269.19 L623.29,260.84 L625.29,252.44 L627.29,244.06 L629.30,235.81 L631.30,227.76 L633.30,220.02 L635.30,212.67 L637.30,205.78 L639.30,199.44 L641.30,193.70 L643.30,188.64 L645.30,184.31 L647.31,180.76 L649.31,178.03 L651.31,176.14 L653.31,175.11 L655.31,174.97 L657.31,175.75 L659.31,177.46 L661.31,180.08 L663.31,183.58 L665.31,187.94 L667.32,193.10 L669.32,199.02 L671.32,205.64 L673.32,212.90 L675.32,220.71 L677.32,229.02 L679.32,237.73 L681.32,246.77 L683.32,256.03 L685.33,265.44 L687.33,274.90 L689.33,284.31 L691.33,293.59 L693.33,302.65 L695.33,311.39 L697.33,319.73 L699.33,327.59 L701.33,334.89 L703.33,341.56 L705.34,347.54 L707.34,352.77 L709.34,357.19 L711.34,360.76 L713.34,363.45 L715.34,365.23 L717.34,366.09 L719.34,366.01 L721.34,365.00 L723.35,363.08 L725.35,360.25 L727.35,356.56 L729.35,352.04 L731.35,346.72 L733.35,340.67 L735.35,333.94 L737.35,326.61 L739.35,318.73 L741.36,310.40 L743.36,301.68 L745.36,292.68 L747.36,283.47 L749.36,274.16 L751.36,264.82 L753.36,255.56 L755.36,246.46 L757.36,237.61 L759.36,229.11 L761.37,221.04 L763.37,213.47 L765.37,206.48 L767.37,200.14 L769.37,194.51 L771.37,189.65 L773.37,185.61 L775.37,182.42 L777.37,180.13 L779.38,178.74 L781.38,178.27 L783.38,178.71 L785.38,180.00 L787.38,182.14 L789.38,185.11 L791.38,188.86 L793.38,193.37 L795.38,198.58 L797.38,204.43 L799.39,210.86 L801.39,217.79 L803.39,225.17 L805.39,232.89 L807.39,240.88 L809.39,249.05 L811.39,257.31 L813.39,265.57 L815.39,273.74 L817.40,281.73 L819.40,289.46 L821.40,296.83 L823.40,303.77 L825.40,310.19 L827.40,316.04 L829.40,321.25 L831.40,325.75 L833.40,329.51 L835.40,332.47 L837.41,334.62 L839.41,335.91 L841.41,336.34 L843.41,335.91 L845.41,334.61 L847.41,332.46 L849.41,329.48 L851.41,325.71 L853.41,321.19 L855.42,315.96 L857.42,310.08 L859.42,303.62 L861.42,296.65 L863.42,289.25 L865.42,281.48 L867.42,273.45 L869.42,265.23 L871.42,256.91 L873.43,248.60 L875.43,240.36 L877.43,232.31 L879.43,224.52 L881.43,217.08 L883.43,210.07 L885.43,203.56 L887.43,197.64 L889.43,192.35 L891.43,187.77 L893.44,183.93 L895.44,180.89 L897.44,178.67 L899.44,177.29 L901.44,176.79 L903.44,177.17 L905.44,178.45 L907.44,180.64 L909.44,183.70 L911.45,187.60 L913.45,192.32 L915.45,197.79 L917.45,203.97 L919.45,210.79 L921.45,218.19 L923.45,226.10 L925.45,234.44 L927.45,243.12 L929.45,252.06 L931.46,261.18 L933.46,270.37 L935.46,279.56 L937.46,288.66 L939.46,297.56 L941.46,306.19 L943.46,314.46 L945.46,322.29 L947.46,329.60 L949.47,336.33 L951.47,342.39 L953.47,347.74 L955.47,352.32 L957.47,356.09 L959.47,359.00 L961.47,361.04 L963.47,362.18 L965.47,362.41 L967.47,361.73 L969.48,360.14 L971.48,357.66 L973.48,354.32 L975.48,350.15 L977.48,345.19 L979.48,339.49 L981.48,333.10 L983.48,326.10 L985.48,318.55 L987.49,310.52 L989.49,302.09 L991.49,293.36 L993.49,284.39 L995.49,275.30 L997.49,266.15 L999.49,257.06 L1001.49,248.10 L1003.49,239.36 L1005.50,230.93 L1007.50,222.91 L1009.50,215.35 L1011.50,208.35 L1013.50,201.96 L1015.50,196.26 L1017.50,191.30 L1019.50,187.13 L1021.50,183.79 L1023.50,181.32 L1025.51,179.73 L1027.51,179.05 L1029.51,179.26 L1031.51,180.32 L1033.51,182.21 L1035.51,184.93 L1037.51,188.42 L1039.51,192.67 L1041.51,197.62 L1043.52,203.21 L1045.52,209.40 L1047.52,216.11 L1049.52,223.26 L1051.52,230.80 L1053.52,238.62 L1055.52,246.65 L1057.52,254.80 L1059.52,262.98 L1061.52,271.11 L1063.53,279.10 L1065.53,286.86 L1067.53,294.30 L1069.53,301.36 L1071.53,307.94 L1073.53,313.98 L1075.53,319.42 L1077.53,324.20 L1079.53,328.26 L1081.54,331.56 L1083.54,334.07 L1085.54,335.76 L1087.54,336.61 L1089.54,336.61 L1091.54,335.76 L1093.54,334.07 L1095.54,331.57 L1097.54,328.27 L1099.54,324.22 L1101.55,319.45 L1103.55,314.02 L1105.55,307.99 L1107.55,301.42 L1109.55,294.38 L1111.55,286.96 L1113.55,279.23 L1115.55,271.27 L1117.55,263.17 L1119.56,255.02 L1121.56,246.91 L1123.56,238.92 L1125.56,231.14 L1127.56,223.66 L1129.56,216.56 L1131.56,209.91 L1133.56,203.78 L1135.56,198.25 L1137.56,193.37 L1139.57,189.20 L1141.57,185.77 L1143.57,183.13 L1145.57,181.31 L1147.57,180.33 L1149.57,180.19 L1151.57,180.92 L1153.57,182.53 L1155.57,184.99 L1157.58,188.29 L1159.58,192.38 L1161.58,197.23 L1163.58,202.79 L1165.58,209.01 L1167.58,215.82 L1169.58,223.16 L1171.58,230.94 L1173.58,239.11 L1175.59,247.56 L1177.59,256.23 L1179.59,265.02 L1181.59,273.84 L1183.59,282.62 L1185.59,291.26 L1187.59,299.67 L1189.59,307.77 L1191.59,315.49 L1193.59,322.74 L1195.60,329.45 L1197.60,335.56 L1199.60,341.00 L1201.60,345.73 L1203.60,349.69 L1205.60,352.85 L1207.60,355.16 L1209.60,356.62 L1211.60,357.21 L1213.61,356.91 L1215.61,355.75 L1217.61,353.72 L1219.61,350.85 L1221.61,347.17 L1223.61,342.72 L1225.61,337.53 L1227.61,331.66 L1229.61,325.17 L1231.61,318.12 L1233.62,310.59 L1235.62,302.63 L1237.62,294.35 L1239.62,285.81 L1241.62,277.09 L1243.62,268.30 L1245.62,259.51 L1247.62,250.81 L1249.62,242.29 L1251.63,234.03 L1253.63,226.11 L1255.63,218.61 L1257.63,211.60 L1259.63,205.16 L1261.63,199.35 L1263.63,194.23 L1265.63,189.84 L1267.63,186.23 L1269.63,183.43 L1271.64,181.48 L1273.64,180.38 L1275.64,180.16 L1277.64,180.79 L1279.64,182.24 L1281.64,184.51 L1283.64,187.56 L1285.64,191.36 L1287.64,195.89 L1289.65,201.07 L1291.65,206.87 L1293.65,213.22 L1295.65,220.06 L1297.65,227.30 L1299.65,234.88 L1301.65,242.71 L1303.65,250.71 L1305.65,258.80 L1307.66,266.89 L1309.66,274.89 L1311.66,282.72 L1313.66,290.30 L1315.66,297.55 L1317.66,304.38 L1319.66,310.73 L1321.66,316.53 L1323.66,321.72 L1325.66,326.24 L1327.67,330.04 L1329.67,333.09 L1331.67,335.36 L1333.67,336.81 L1335.67,337.43 L1337.67,337.23 L1339.67,336.21 L1341.67,334.40 L1343.67,331.80 L1345.68,328.44 L1347.68,324.37 L1349.68,319.62 L1351.68,314.25 L1353.68,308.31 L1355.68,301.87 L1357.68,294.99 L1359.68,287.75 L1361.68,280.22 L1363.68,272.49 L1365.69,264.64 L1367.69,256.75 L1369.69,248.91 L1371.69,241.19 L1373.69,233.69 L1375.69,226.48 L1377.69,219.63 L1379.69,213.23 L1381.69,207.34 L1383.70,202.02 L1385.70,197.32 L1387.70,193.31 L1389.70,190.02 L1391.70,187.49 L1393.70,185.74 L1395.70,184.79 L1397.70,184.66 L1399.70,185.36 L1401.70,186.88 L1403.71,189.22 L1405.71,192.34 L1407.71,196.22 L1409.71,200.83 L1411.71,206.10 L1413.71,211.99 L1415.71,218.44 L1417.71,225.39 L1419.71,232.76 L1421.72,240.49 L1423.72,248.49 L1425.72,256.68 L1427.72,264.98 L1429.72,273.31 L1431.72,281.58 L1433.72,289.72 L1435.72,297.63 L1437.72,305.25 L1439.73,312.49 L1441.73,319.27 L1443.73,325.55 L1445.73,331.24 L1447.73,336.29 L1449.73,340.65 L1451.73,344.29 L1453.73,347.15 L1455.73,349.22 L1457.73,350.46 L1459.74,350.88 L1461.74,350.46 L1463.74,349.20 L1465.74,347.11 L1467.74,344.22 L1469.74,340.55 L1471.74,336.14 L1473.74,331.04 L1475.74,325.29 L1477.75,318.95 L1479.75,312.08 L1481.75,304.76 L1483.75,297.05 L1485.75,289.04 L1487.75,280.79 L1489.75,272.40 L1491.75,263.95 L1493.75,255.52 L1495.75,247.19 L1497.76,239.05 L1499.76,231.18 L1501.76,223.66 L1503.76,216.56 L1505.76,209.95 L1507.76,203.89 L1509.76,198.46 L1511.76,193.70 L1513.76,189.65 L1515.77,186.37 L1517.77,183.88 L1519.77,182.20 L1521.77,181.36 L1523.77,181.36 L1525.77,182.17 L1527.77,183.77 L1529.77,186.17 L1531.77,189.32 L1533.77,193.19 L1535.78,197.76 L1537.78,202.96 L1539.78,208.75 L1541.78,215.06 L1543.78,221.84 L1545.78,229.01 L1547.78,236.50 L1549.78,244.24 L1551.78,252.13 L1553.79,260.11 L1555.79,268.08 L1557.79,275.98 L1559.79,283.71 L1561.79,291.20 L1563.79,298.37 L1565.79,305.15 L1567.79,311.47 L1569.79,317.25 L1571.80,322.46 L1573.80,327.02 L1575.80,330.89 L1577.80,334.04 L1579.80,336.43 L1581.80,338.04 L1583.80,338.85 L1585.80,338.85 L1587.80,338.07 L1589.80,336.50 L1591.81,334.17 L1593.81,331.11 L1595.81,327.34 L1597.81,322.90 L1599.81,317.84 L1601.81,312.22 L1603.81,306.09 L1605.81,299.52 L1607.81,292.57 L1609.82,285.32 L1611.82,277.85 L1613.82,270.23 L1615.82,262.54 L1617.82,254.87 L1619.82,247.28 L1621.82,239.88 L1623.82,232.72 L1625.82,225.89 L1627.82,219.46 L1629.83,213.49 L1631.83,208.06 L1633.83,203.20 L1635.83,198.98 L1637.83,195.45 L1639.83,192.63 L1641.83,190.55 L1643.83,189.25 L1645.83,188.72 L1647.84,188.99 L1649.84,190.05 L1651.84,191.90 L1653.84,194.51 L1655.84,197.86 L1657.84,201.91 L1659.84,206.63 L1661.84,211.96 L1663.84,217.84 L1665.84,224.23 L1667.85,231.05 L1669.85,238.23 L1671.85,245.71 L1673.85,253.39 L1675.85,261.21 L1677.85,269.08 L1679.85,276.93 L1681.85,284.67 L1683.85,292.22 L1685.86,299.50 L1687.86,306.45 L1689.86,312.99 L1691.86,319.05 L1693.86,324.57 L1695.86,329.49 L1697.86,333.76 L1699.86,337.35 L1701.86,340.21 L1703.86,342.31 L1705.87,343.63 L1707.87,344.16 L1709.87,344.00 L1711.87,343.37 L1713.87,342.25 L1715.87,340.68 L1717.87,338.64 L1719.87,336.16 L1721.87,333.25 L1723.88,329.94 L1725.88,326.22 L1727.88,322.15 L1729.88,317.72 L1731.88,312.99 L1733.88,307.96 L1735.88,302.68 L1737.88,297.18 L1739.88,291.48 L1741.89,285.63 L1743.89,279.67 L1745.89,273.62 L1747.89,267.52 L1749.89,261.42 L1751.89,255.34" fill="none" stroke="#2181c9" stroke-width="2.7"/></g>
<g clip-path="url(#nc)"><path d="M71,406 L71.00,243.43 L73.00,252.03 L75.00,260.67 L77.00,269.24 L79.00,277.65 L81.01,285.77 L83.01,293.51 L85.01,300.77 L87.01,307.46 L89.01,313.48 L91.01,318.77 L93.01,323.25 L95.01,326.88 L97.01,329.60 L99.01,331.37 L101.02,332.19 L103.02,332.05 L105.02,331.05 L107.02,329.21 L109.02,326.53 L111.02,323.07 L113.02,318.84 L115.02,313.91 L117.02,308.32 L119.03,302.13 L121.03,295.42 L123.03,288.26 L125.03,280.72 L127.03,272.90 L129.03,264.87 L131.03,256.74 L133.03,248.58 L135.03,240.48 L137.03,232.55 L139.04,224.86 L141.04,217.50 L143.04,210.56 L145.04,204.10 L147.04,198.20 L149.04,192.93 L151.04,188.35 L153.04,184.50 L155.04,181.42 L157.05,179.16 L159.05,177.74 L161.05,177.17 L163.05,177.48 L165.05,178.71 L167.05,180.86 L169.05,183.90 L171.05,187.80 L173.05,192.52 L175.06,198.02 L177.06,204.24 L179.06,211.13 L181.06,218.61 L183.06,226.61 L185.06,235.07 L187.06,243.88 L189.06,252.97 L191.06,262.25 L193.06,271.63 L195.07,281.02 L197.07,290.33 L199.07,299.46 L201.07,308.32 L203.07,316.84 L205.07,324.92 L207.07,332.50 L209.07,339.49 L211.07,345.82 L213.08,351.44 L215.08,356.30 L217.08,360.33 L219.08,363.51 L221.08,365.81 L223.08,367.19 L225.08,367.66 L227.08,367.19 L229.08,365.80 L231.08,363.50 L233.09,360.31 L235.09,356.26 L237.09,351.39 L239.09,345.75 L241.09,339.39 L243.09,332.39 L245.09,324.79 L247.09,316.69 L249.09,308.15 L251.10,299.27 L253.10,290.13 L255.10,280.81 L257.10,271.41 L259.10,262.03 L261.10,252.75 L263.10,243.66 L265.10,234.86 L267.10,226.42 L269.10,218.44 L271.11,210.99 L273.11,204.13 L275.11,197.95 L277.11,192.50 L279.11,187.84 L281.11,184.00 L283.11,181.03 L285.11,178.95 L287.11,177.79 L289.12,177.56 L291.12,178.21 L293.12,179.73 L295.12,182.10 L297.12,185.28 L299.12,189.26 L301.12,193.97 L303.12,199.38 L305.12,205.41 L307.13,212.00 L309.13,219.09 L311.13,226.58 L313.13,234.40 L315.13,242.45 L317.13,250.66 L319.13,258.92 L321.13,267.15 L323.13,275.25 L325.13,283.13 L327.14,290.72 L329.14,297.91 L331.14,304.63 L333.14,310.81 L335.14,316.38 L337.14,321.27 L339.14,325.43 L341.14,328.82 L343.14,331.39 L345.15,333.13 L347.15,334.00 L349.15,333.99 L351.15,333.12 L353.15,331.38 L355.15,328.79 L357.15,325.38 L359.15,321.19 L361.15,316.27 L363.15,310.66 L365.16,304.44 L367.16,297.67 L369.16,290.42 L371.16,282.78 L373.16,274.82 L375.16,266.64 L377.16,258.33 L379.16,249.98 L381.16,241.67 L383.17,233.51 L385.17,225.58 L387.17,217.96 L389.17,210.75 L391.17,204.03 L393.17,197.85 L395.17,192.31 L397.17,187.44 L399.17,183.32 L401.17,179.98 L403.18,177.46 L405.18,175.80 L407.18,174.99 L409.18,175.08 L411.18,176.10 L413.18,178.06 L415.18,180.93 L417.18,184.69 L419.18,189.29 L421.19,194.70 L423.19,200.86 L425.19,207.71 L427.19,215.19 L429.19,223.21 L431.19,231.71 L433.19,240.60 L435.19,249.79 L437.19,259.19 L439.20,268.71 L441.20,278.26 L443.20,287.74 L445.20,297.06 L447.20,306.13 L449.20,314.87 L451.20,323.17 L453.20,330.98 L455.20,338.20 L457.20,344.77 L459.21,350.62 L461.21,355.69 L463.21,359.95 L465.21,363.33 L467.21,365.82 L469.21,367.39 L471.21,368.02 L473.21,367.70 L475.21,366.46 L477.22,364.29 L479.22,361.22 L481.22,357.28 L483.22,352.51 L485.22,346.96 L487.22,340.68 L489.22,333.73 L491.22,326.18 L493.22,318.11 L495.22,309.59 L497.23,300.70 L499.23,291.55 L501.23,282.21 L503.23,272.78 L505.23,263.34 L507.23,254.00 L509.23,244.85 L511.23,235.97 L513.23,227.45 L515.24,219.37 L517.24,211.82 L519.24,204.88 L521.24,198.59 L523.24,193.04 L525.24,188.27 L527.24,184.34 L529.24,181.27 L531.24,179.10 L533.24,177.86 L535.25,177.54 L537.25,178.12 L539.25,179.58 L541.25,181.88 L543.25,185.01 L545.25,188.94 L547.25,193.61 L549.25,198.98 L551.25,205.00 L553.26,211.58 L555.26,218.66 L557.26,226.16 L559.26,233.99 L561.26,242.08 L563.26,250.33 L565.26,258.65 L567.26,266.94 L569.26,275.12 L571.27,283.09 L573.27,290.77 L575.27,298.07 L577.27,304.91 L579.27,311.22 L581.27,316.91 L583.27,321.94 L585.27,326.25 L587.27,329.78 L589.27,332.50 L591.28,334.38 L593.28,335.40 L595.28,335.55 L597.28,334.81 L599.28,333.21 L601.28,330.75 L603.28,327.46 L605.28,323.38 L607.28,318.55 L609.29,313.04 L611.29,306.88 L613.29,300.17 L615.29,292.96 L617.29,285.34 L619.29,277.39 L621.29,269.19 L623.29,260.84 L625.29,252.44 L627.29,244.06 L629.30,235.81 L631.30,227.76 L633.30,220.02 L635.30,212.67 L637.30,205.78 L639.30,199.44 L641.30,193.70 L643.30,188.64 L645.30,184.31 L647.31,180.76 L649.31,178.03 L651.31,176.14 L653.31,175.11 L655.31,174.97 L657.31,175.75 L659.31,177.46 L661.31,180.08 L663.31,183.58 L665.31,187.94 L667.32,193.10 L669.32,199.02 L671.32,205.64 L673.32,212.90 L675.32,220.71 L677.32,229.02 L679.32,237.73 L681.32,246.77 L683.32,256.03 L685.33,265.44 L687.33,274.90 L689.33,284.31 L691.33,293.59 L693.33,302.65 L695.33,311.39 L697.33,319.73 L699.33,327.59 L701.33,334.89 L703.33,341.56 L705.34,347.54 L707.34,352.77 L709.34,357.19 L711.34,360.76 L713.34,363.45 L715.34,365.23 L717.34,366.09 L719.34,366.01 L721.34,365.00 L723.35,363.08 L725.35,360.25 L727.35,356.56 L729.35,352.04 L731.35,346.72 L733.35,340.67 L735.35,333.94 L737.35,326.61 L739.35,318.73 L741.36,310.40 L743.36,301.68 L745.36,292.68 L747.36,283.47 L749.36,274.16 L751.36,264.82 L753.36,255.56 L755.36,246.46 L757.36,237.61 L759.36,229.11 L761.37,221.04 L763.37,213.47 L765.37,206.48 L767.37,200.14 L769.37,194.51 L771.37,189.65 L773.37,185.61 L775.37,182.42 L777.37,180.13 L779.38,178.74 L781.38,178.27 L783.38,178.71 L785.38,180.00 L787.38,182.14 L789.38,185.11 L791.38,188.86 L793.38,193.37 L795.38,198.58 L797.38,204.43 L799.39,210.86 L801.39,217.79 L803.39,225.17 L805.39,232.89 L807.39,240.88 L809.39,249.05 L811.39,257.31 L813.39,265.57 L815.39,273.74 L817.40,281.73 L819.40,289.46 L821.40,296.83 L823.40,303.77 L825.40,310.19 L827.40,316.04 L829.40,321.25 L831.40,325.75 L833.40,329.51 L835.40,332.47 L837.41,334.62 L839.41,335.91 L841.41,336.34 L843.41,335.91 L845.41,334.61 L847.41,332.46 L849.41,329.48 L851.41,325.71 L853.41,321.19 L855.42,315.96 L857.42,310.08 L859.42,303.62 L861.42,296.65 L863.42,289.25 L865.42,281.48 L867.42,273.45 L869.42,265.23 L871.42,256.91 L873.43,248.60 L875.43,240.36 L877.43,232.31 L879.43,224.52 L881.43,217.08 L883.43,210.07 L885.43,203.56 L887.43,197.64 L889.43,192.35 L891.43,187.77 L893.44,183.93 L895.44,180.89 L897.44,178.67 L899.44,177.29 L901.44,176.79 L903.44,177.17 L905.44,178.45 L907.44,180.64 L909.44,183.70 L911.45,187.60 L913.45,192.32 L915.45,197.79 L917.45,203.97 L919.45,210.79 L921.45,218.19 L923.45,226.10 L925.45,234.44 L927.45,243.12 L929.45,252.06 L931.46,261.18 L933.46,270.37 L935.46,279.56 L937.46,288.66 L939.46,297.56 L941.46,306.19 L943.46,314.46 L945.46,322.29 L947.46,329.60 L949.47,336.33 L951.47,342.39 L953.47,347.74 L955.47,352.32 L957.47,356.09 L959.47,359.00 L961.47,361.04 L963.47,362.18 L965.47,362.41 L967.47,361.73 L969.48,360.14 L971.48,357.66 L973.48,354.32 L975.48,350.15 L977.48,345.19 L979.48,339.49 L981.48,333.10 L983.48,326.10 L985.48,318.55 L987.49,310.52 L989.49,302.09 L991.49,293.36 L993.49,284.39 L995.49,275.30 L997.49,266.15 L999.49,257.06 L1001.49,248.10 L1003.49,239.36 L1005.50,230.93 L1007.50,222.91 L1009.50,215.35 L1011.50,208.35 L1013.50,201.96 L1015.50,196.26 L1017.50,191.30 L1019.50,187.13 L1021.50,183.79 L1023.50,181.32 L1025.51,179.73 L1027.51,179.05 L1029.51,179.26 L1031.51,180.32 L1033.51,182.21 L1035.51,184.93 L1037.51,188.42 L1039.51,192.67 L1041.51,197.62 L1043.52,203.21 L1045.52,209.40 L1047.52,216.11 L1049.52,223.26 L1051.52,230.80 L1053.52,238.62 L1055.52,246.65 L1057.52,254.80 L1059.52,262.98 L1061.52,271.11 L1063.53,279.10 L1065.53,286.86 L1067.53,294.30 L1069.53,301.36 L1071.53,307.94 L1073.53,313.98 L1075.53,319.42 L1077.53,324.20 L1079.53,328.26 L1081.54,331.56 L1083.54,334.07 L1085.54,335.76 L1087.54,336.61 L1089.54,336.61 L1091.54,335.76 L1093.54,334.07 L1095.54,331.57 L1097.54,328.27 L1099.54,324.22 L1101.55,319.45 L1103.55,314.02 L1105.55,307.99 L1107.55,301.42 L1109.55,294.38 L1111.55,286.96 L1113.55,279.23 L1115.55,271.27 L1117.55,263.17 L1119.56,255.02 L1121.56,246.91 L1123.56,238.92 L1125.56,231.14 L1127.56,223.66 L1129.56,216.56 L1131.56,209.91 L1133.56,203.78 L1135.56,198.25 L1137.56,193.37 L1139.57,189.20 L1141.57,185.77 L1143.57,183.13 L1145.57,181.31 L1147.57,180.33 L1149.57,180.19 L1151.57,180.92 L1153.57,182.53 L1155.57,184.99 L1157.58,188.29 L1159.58,192.38 L1161.58,197.23 L1163.58,202.79 L1165.58,209.01 L1167.58,215.82 L1169.58,223.16 L1171.58,230.94 L1173.58,239.11 L1175.59,247.56 L1177.59,256.23 L1179.59,265.02 L1181.59,273.84 L1183.59,282.62 L1185.59,291.26 L1187.59,299.67 L1189.59,307.77 L1191.59,315.49 L1193.59,322.74 L1195.60,329.45 L1197.60,335.56 L1199.60,341.00 L1201.60,345.73 L1203.60,349.69 L1205.60,352.85 L1207.60,355.16 L1209.60,356.62 L1211.60,357.21 L1213.61,356.91 L1215.61,355.75 L1217.61,353.72 L1219.61,350.85 L1221.61,347.17 L1223.61,342.72 L1225.61,337.53 L1227.61,331.66 L1229.61,325.17 L1231.61,318.12 L1233.62,310.59 L1235.62,302.63 L1237.62,294.35 L1239.62,285.81 L1241.62,277.09 L1243.62,268.30 L1245.62,259.51 L1247.62,250.81 L1249.62,242.29 L1251.63,234.03 L1253.63,226.11 L1255.63,218.61 L1257.63,211.60 L1259.63,205.16 L1261.63,199.35 L1263.63,194.23 L1265.63,189.84 L1267.63,186.23 L1269.63,183.43 L1271.64,181.48 L1273.64,180.38 L1275.64,180.16 L1277.64,180.79 L1279.64,182.24 L1281.64,184.51 L1283.64,187.56 L1285.64,191.36 L1287.64,195.89 L1289.65,201.07 L1291.65,206.87 L1293.65,213.22 L1295.65,220.06 L1297.65,227.30 L1299.65,234.88 L1301.65,242.71 L1303.65,250.71 L1305.65,258.80 L1307.66,266.89 L1309.66,274.89 L1311.66,282.72 L1313.66,290.30 L1315.66,297.55 L1317.66,304.38 L1319.66,310.73 L1321.66,316.53 L1323.66,321.72 L1325.66,326.24 L1327.67,330.04 L1329.67,333.09 L1331.67,335.36 L1333.67,336.81 L1335.67,337.43 L1337.67,337.23 L1339.67,336.21 L1341.67,334.40 L1343.67,331.80 L1345.68,328.44 L1347.68,324.37 L1349.68,319.62 L1351.68,314.25 L1353.68,308.31 L1355.68,301.87 L1357.68,294.99 L1359.68,287.75 L1361.68,280.22 L1363.68,272.49 L1365.69,264.64 L1367.69,256.75 L1369.69,248.91 L1371.69,241.19 L1373.69,233.69 L1375.69,226.48 L1377.69,219.63 L1379.69,213.23 L1381.69,207.34 L1383.70,202.02 L1385.70,197.32 L1387.70,193.31 L1389.70,190.02 L1391.70,187.49 L1393.70,185.74 L1395.70,184.79 L1397.70,184.66 L1399.70,185.36 L1401.70,186.88 L1403.71,189.22 L1405.71,192.34 L1407.71,196.22 L1409.71,200.83 L1411.71,206.10 L1413.71,211.99 L1415.71,218.44 L1417.71,225.39 L1419.71,232.76 L1421.72,240.49 L1423.72,248.49 L1425.72,256.68 L1427.72,264.98 L1429.72,273.31 L1431.72,281.58 L1433.72,289.72 L1435.72,297.63 L1437.72,305.25 L1439.73,312.49 L1441.73,319.27 L1443.73,325.55 L1445.73,331.24 L1447.73,336.29 L1449.73,340.65 L1451.73,344.29 L1453.73,347.15 L1455.73,349.22 L1457.73,350.46 L1459.74,350.88 L1461.74,350.46 L1463.74,349.20 L1465.74,347.11 L1467.74,344.22 L1469.74,340.55 L1471.74,336.14 L1473.74,331.04 L1475.74,325.29 L1477.75,318.95 L1479.75,312.08 L1481.75,304.76 L1483.75,297.05 L1485.75,289.04 L1487.75,280.79 L1489.75,272.40 L1491.75,263.95 L1493.75,255.52 L1495.75,247.19 L1497.76,239.05 L1499.76,231.18 L1501.76,223.66 L1503.76,216.56 L1505.76,209.95 L1507.76,203.89 L1509.76,198.46 L1511.76,193.70 L1513.76,189.65 L1515.77,186.37 L1517.77,183.88 L1519.77,182.20 L1521.77,181.36 L1523.77,181.36 L1525.77,182.17 L1527.77,183.77 L1529.77,186.17 L1531.77,189.32 L1533.77,193.19 L1535.78,197.76 L1537.78,202.96 L1539.78,208.75 L1541.78,215.06 L1543.78,221.84 L1545.78,229.01 L1547.78,236.50 L1549.78,244.24 L1551.78,252.13 L1553.79,260.11 L1555.79,268.08 L1557.79,275.98 L1559.79,283.71 L1561.79,291.20 L1563.79,298.37 L1565.79,305.15 L1567.79,311.47 L1569.79,317.25 L1571.80,322.46 L1573.80,327.02 L1575.80,330.89 L1577.80,334.04 L1579.80,336.43 L1581.80,338.04 L1583.80,338.85 L1585.80,338.85 L1587.80,338.07 L1589.80,336.50 L1591.81,334.17 L1593.81,331.11 L1595.81,327.34 L1597.81,322.90 L1599.81,317.84 L1601.81,312.22 L1603.81,306.09 L1605.81,299.52 L1607.81,292.57 L1609.82,285.32 L1611.82,277.85 L1613.82,270.23 L1615.82,262.54 L1617.82,254.87 L1619.82,247.28 L1621.82,239.88 L1623.82,232.72 L1625.82,225.89 L1627.82,219.46 L1629.83,213.49 L1631.83,208.06 L1633.83,203.20 L1635.83,198.98 L1637.83,195.45 L1639.83,192.63 L1641.83,190.55 L1643.83,189.25 L1645.83,188.72 L1647.84,188.99 L1649.84,190.05 L1651.84,191.90 L1653.84,194.51 L1655.84,197.86 L1657.84,201.91 L1659.84,206.63 L1661.84,211.96 L1663.84,217.84 L1665.84,224.23 L1667.85,231.05 L1669.85,238.23 L1671.85,245.71 L1673.85,253.39 L1675.85,261.21 L1677.85,269.08 L1679.85,276.93 L1681.85,284.67 L1683.85,292.22 L1685.86,299.50 L1687.86,306.45 L1689.86,312.99 L1691.86,319.05 L1693.86,324.57 L1695.86,329.49 L1697.86,333.76 L1699.86,337.35 L1701.86,340.21 L1703.86,342.31 L1705.87,343.63 L1707.87,344.16 L1709.87,344.00 L1711.87,343.37 L1713.87,342.25 L1715.87,340.68 L1717.87,338.64 L1719.87,336.16 L1721.87,333.25 L1723.88,329.94 L1725.88,326.22 L1727.88,322.15 L1729.88,317.72 L1731.88,312.99 L1733.88,307.96 L1735.88,302.68 L1737.88,297.18 L1739.88,291.48 L1741.89,285.63 L1743.89,279.67 L1745.89,273.62 L1747.89,267.52 L1749.89,261.42 L1751.89,255.34 L1754,406 Z" fill="url(#ng)" fill-opacity="0.93"/><path d="M71.00,243.43 L73.00,252.03 L75.00,260.67 L77.00,269.24 L79.00,277.65 L81.01,285.77 L83.01,293.51 L85.01,300.77 L87.01,307.46 L89.01,313.48 L91.01,318.77 L93.01,323.25 L95.01,326.88 L97.01,329.60 L99.01,331.37 L101.02,332.19 L103.02,332.05 L105.02,331.05 L107.02,329.21 L109.02,326.53 L111.02,323.07 L113.02,318.84 L115.02,313.91 L117.02,308.32 L119.03,302.13 L121.03,295.42 L123.03,288.26 L125.03,280.72 L127.03,272.90 L129.03,264.87 L131.03,256.74 L133.03,248.58 L135.03,240.48 L137.03,232.55 L139.04,224.86 L141.04,217.50 L143.04,210.56 L145.04,204.10 L147.04,198.20 L149.04,192.93 L151.04,188.35 L153.04,184.50 L155.04,181.42 L157.05,179.16 L159.05,177.74 L161.05,177.17 L163.05,177.48 L165.05,178.71 L167.05,180.86 L169.05,183.90 L171.05,187.80 L173.05,192.52 L175.06,198.02 L177.06,204.24 L179.06,211.13 L181.06,218.61 L183.06,226.61 L185.06,235.07 L187.06,243.88 L189.06,252.97 L191.06,262.25 L193.06,271.63 L195.07,281.02 L197.07,290.33 L199.07,299.46 L201.07,308.32 L203.07,316.84 L205.07,324.92 L207.07,332.50 L209.07,339.49 L211.07,345.82 L213.08,351.44 L215.08,356.30 L217.08,360.33 L219.08,363.51 L221.08,365.81 L223.08,367.19 L225.08,367.66 L227.08,367.19 L229.08,365.80 L231.08,363.50 L233.09,360.31 L235.09,356.26 L237.09,351.39 L239.09,345.75 L241.09,339.39 L243.09,332.39 L245.09,324.79 L247.09,316.69 L249.09,308.15 L251.10,299.27 L253.10,290.13 L255.10,280.81 L257.10,271.41 L259.10,262.03 L261.10,252.75 L263.10,243.66 L265.10,234.86 L267.10,226.42 L269.10,218.44 L271.11,210.99 L273.11,204.13 L275.11,197.95 L277.11,192.50 L279.11,187.84 L281.11,184.00 L283.11,181.03 L285.11,178.95 L287.11,177.79 L289.12,177.56 L291.12,178.21 L293.12,179.73 L295.12,182.10 L297.12,185.28 L299.12,189.26 L301.12,193.97 L303.12,199.38 L305.12,205.41 L307.13,212.00 L309.13,219.09 L311.13,226.58 L313.13,234.40 L315.13,242.45 L317.13,250.66 L319.13,258.92 L321.13,267.15 L323.13,275.25 L325.13,283.13 L327.14,290.72 L329.14,297.91 L331.14,304.63 L333.14,310.81 L335.14,316.38 L337.14,321.27 L339.14,325.43 L341.14,328.82 L343.14,331.39 L345.15,333.13 L347.15,334.00 L349.15,333.99 L351.15,333.12 L353.15,331.38 L355.15,328.79 L357.15,325.38 L359.15,321.19 L361.15,316.27 L363.15,310.66 L365.16,304.44 L367.16,297.67 L369.16,290.42 L371.16,282.78 L373.16,274.82 L375.16,266.64 L377.16,258.33 L379.16,249.98 L381.16,241.67 L383.17,233.51 L385.17,225.58 L387.17,217.96 L389.17,210.75 L391.17,204.03 L393.17,197.85 L395.17,192.31 L397.17,187.44 L399.17,183.32 L401.17,179.98 L403.18,177.46 L405.18,175.80 L407.18,174.99 L409.18,175.08 L411.18,176.10 L413.18,178.06 L415.18,180.93 L417.18,184.69 L419.18,189.29 L421.19,194.70 L423.19,200.86 L425.19,207.71 L427.19,215.19 L429.19,223.21 L431.19,231.71 L433.19,240.60 L435.19,249.79 L437.19,259.19 L439.20,268.71 L441.20,278.26 L443.20,287.74 L445.20,297.06 L447.20,306.13 L449.20,314.87 L451.20,323.17 L453.20,330.98 L455.20,338.20 L457.20,344.77 L459.21,350.62 L461.21,355.69 L463.21,359.95 L465.21,363.33 L467.21,365.82 L469.21,367.39 L471.21,368.02 L473.21,367.70 L475.21,366.46 L477.22,364.29 L479.22,361.22 L481.22,357.28 L483.22,352.51 L485.22,346.96 L487.22,340.68 L489.22,333.73 L491.22,326.18 L493.22,318.11 L495.22,309.59 L497.23,300.70 L499.23,291.55 L501.23,282.21 L503.23,272.78 L505.23,263.34 L507.23,254.00 L509.23,244.85 L511.23,235.97 L513.23,227.45 L515.24,219.37 L517.24,211.82 L519.24,204.88 L521.24,198.59 L523.24,193.04 L525.24,188.27 L527.24,184.34 L529.24,181.27 L531.24,179.10 L533.24,177.86 L535.25,177.54 L537.25,178.12 L539.25,179.58 L541.25,181.88 L543.25,185.01 L545.25,188.94 L547.25,193.61 L549.25,198.98 L551.25,205.00 L553.26,211.58 L555.26,218.66 L557.26,226.16 L559.26,233.99 L561.26,242.08 L563.26,250.33 L565.26,258.65 L567.26,266.94 L569.26,275.12 L571.27,283.09 L573.27,290.77 L575.27,298.07 L577.27,304.91 L579.27,311.22 L581.27,316.91 L583.27,321.94 L585.27,326.25 L587.27,329.78 L589.27,332.50 L591.28,334.38 L593.28,335.40 L595.28,335.55 L597.28,334.81 L599.28,333.21 L601.28,330.75 L603.28,327.46 L605.28,323.38 L607.28,318.55 L609.29,313.04 L611.29,306.88 L613.29,300.17 L615.29,292.96 L617.29,285.34 L619.29,277.39 L621.29,269.19 L623.29,260.84 L625.29,252.44 L627.29,244.06 L629.30,235.81 L631.30,227.76 L633.30,220.02 L635.30,212.67 L637.30,205.78 L639.30,199.44 L641.30,193.70 L643.30,188.64 L645.30,184.31 L647.31,180.76 L649.31,178.03 L651.31,176.14 L653.31,175.11 L655.31,174.97 L657.31,175.75 L659.31,177.46 L661.31,180.08 L663.31,183.58 L665.31,187.94 L667.32,193.10 L669.32,199.02 L671.32,205.64 L673.32,212.90 L675.32,220.71 L677.32,229.02 L679.32,237.73 L681.32,246.77 L683.32,256.03 L685.33,265.44 L687.33,274.90 L689.33,284.31 L691.33,293.59 L693.33,302.65 L695.33,311.39 L697.33,319.73 L699.33,327.59 L701.33,334.89 L703.33,341.56 L705.34,347.54 L707.34,352.77 L709.34,357.19 L711.34,360.76 L713.34,363.45 L715.34,365.23 L717.34,366.09 L719.34,366.01 L721.34,365.00 L723.35,363.08 L725.35,360.25 L727.35,356.56 L729.35,352.04 L731.35,346.72 L733.35,340.67 L735.35,333.94 L737.35,326.61 L739.35,318.73 L741.36,310.40 L743.36,301.68 L745.36,292.68 L747.36,283.47 L749.36,274.16 L751.36,264.82 L753.36,255.56 L755.36,246.46 L757.36,237.61 L759.36,229.11 L761.37,221.04 L763.37,213.47 L765.37,206.48 L767.37,200.14 L769.37,194.51 L771.37,189.65 L773.37,185.61 L775.37,182.42 L777.37,180.13 L779.38,178.74 L781.38,178.27 L783.38,178.71 L785.38,180.00 L787.38,182.14 L789.38,185.11 L791.38,188.86 L793.38,193.37 L795.38,198.58 L797.38,204.43 L799.39,210.86 L801.39,217.79 L803.39,225.17 L805.39,232.89 L807.39,240.88 L809.39,249.05 L811.39,257.31 L813.39,265.57 L815.39,273.74 L817.40,281.73 L819.40,289.46 L821.40,296.83 L823.40,303.77 L825.40,310.19 L827.40,316.04 L829.40,321.25 L831.40,325.75 L833.40,329.51 L835.40,332.47 L837.41,334.62 L839.41,335.91 L841.41,336.34 L843.41,335.91 L845.41,334.61 L847.41,332.46 L849.41,329.48 L851.41,325.71 L853.41,321.19 L855.42,315.96 L857.42,310.08 L859.42,303.62 L861.42,296.65 L863.42,289.25 L865.42,281.48 L867.42,273.45 L869.42,265.23 L871.42,256.91 L873.43,248.60 L875.43,240.36 L877.43,232.31 L879.43,224.52 L881.43,217.08 L883.43,210.07 L885.43,203.56 L887.43,197.64 L889.43,192.35 L891.43,187.77 L893.44,183.93 L895.44,180.89 L897.44,178.67 L899.44,177.29 L901.44,176.79 L903.44,177.17 L905.44,178.45 L907.44,180.64 L909.44,183.70 L911.45,187.60 L913.45,192.32 L915.45,197.79 L917.45,203.97 L919.45,210.79 L921.45,218.19 L923.45,226.10 L925.45,234.44 L927.45,243.12 L929.45,252.06 L931.46,261.18 L933.46,270.37 L935.46,279.56 L937.46,288.66 L939.46,297.56 L941.46,306.19 L943.46,314.46 L945.46,322.29 L947.46,329.60 L949.47,336.33 L951.47,342.39 L953.47,347.74 L955.47,352.32 L957.47,356.09 L959.47,359.00 L961.47,361.04 L963.47,362.18 L965.47,362.41 L967.47,361.73 L969.48,360.14 L971.48,357.66 L973.48,354.32 L975.48,350.15 L977.48,345.19 L979.48,339.49 L981.48,333.10 L983.48,326.10 L985.48,318.55 L987.49,310.52 L989.49,302.09 L991.49,293.36 L993.49,284.39 L995.49,275.30 L997.49,266.15 L999.49,257.06 L1001.49,248.10 L1003.49,239.36 L1005.50,230.93 L1007.50,222.91 L1009.50,215.35 L1011.50,208.35 L1013.50,201.96 L1015.50,196.26 L1017.50,191.30 L1019.50,187.13 L1021.50,183.79 L1023.50,181.32 L1025.51,179.73 L1027.51,179.05 L1029.51,179.26 L1031.51,180.32 L1033.51,182.21 L1035.51,184.93 L1037.51,188.42 L1039.51,192.67 L1041.51,197.62 L1043.52,203.21 L1045.52,209.40 L1047.52,216.11 L1049.52,223.26 L1051.52,230.80 L1053.52,238.62 L1055.52,246.65 L1057.52,254.80 L1059.52,262.98 L1061.52,271.11 L1063.53,279.10 L1065.53,286.86 L1067.53,294.30 L1069.53,301.36 L1071.53,307.94 L1073.53,313.98 L1075.53,319.42 L1077.53,324.20 L1079.53,328.26 L1081.54,331.56 L1083.54,334.07 L1085.54,335.76 L1087.54,336.61 L1089.54,336.61 L1091.54,335.76 L1093.54,334.07 L1095.54,331.57 L1097.54,328.27 L1099.54,324.22 L1101.55,319.45 L1103.55,314.02 L1105.55,307.99 L1107.55,301.42 L1109.55,294.38 L1111.55,286.96 L1113.55,279.23 L1115.55,271.27 L1117.55,263.17 L1119.56,255.02 L1121.56,246.91 L1123.56,238.92 L1125.56,231.14 L1127.56,223.66 L1129.56,216.56 L1131.56,209.91 L1133.56,203.78 L1135.56,198.25 L1137.56,193.37 L1139.57,189.20 L1141.57,185.77 L1143.57,183.13 L1145.57,181.31 L1147.57,180.33 L1149.57,180.19 L1151.57,180.92 L1153.57,182.53 L1155.57,184.99 L1157.58,188.29 L1159.58,192.38 L1161.58,197.23 L1163.58,202.79 L1165.58,209.01 L1167.58,215.82 L1169.58,223.16 L1171.58,230.94 L1173.58,239.11 L1175.59,247.56 L1177.59,256.23 L1179.59,265.02 L1181.59,273.84 L1183.59,282.62 L1185.59,291.26 L1187.59,299.67 L1189.59,307.77 L1191.59,315.49 L1193.59,322.74 L1195.60,329.45 L1197.60,335.56 L1199.60,341.00 L1201.60,345.73 L1203.60,349.69 L1205.60,352.85 L1207.60,355.16 L1209.60,356.62 L1211.60,357.21 L1213.61,356.91 L1215.61,355.75 L1217.61,353.72 L1219.61,350.85 L1221.61,347.17 L1223.61,342.72 L1225.61,337.53 L1227.61,331.66 L1229.61,325.17 L1231.61,318.12 L1233.62,310.59 L1235.62,302.63 L1237.62,294.35 L1239.62,285.81 L1241.62,277.09 L1243.62,268.30 L1245.62,259.51 L1247.62,250.81 L1249.62,242.29 L1251.63,234.03 L1253.63,226.11 L1255.63,218.61 L1257.63,211.60 L1259.63,205.16 L1261.63,199.35 L1263.63,194.23 L1265.63,189.84 L1267.63,186.23 L1269.63,183.43 L1271.64,181.48 L1273.64,180.38 L1275.64,180.16 L1277.64,180.79 L1279.64,182.24 L1281.64,184.51 L1283.64,187.56 L1285.64,191.36 L1287.64,195.89 L1289.65,201.07 L1291.65,206.87 L1293.65,213.22 L1295.65,220.06 L1297.65,227.30 L1299.65,234.88 L1301.65,242.71 L1303.65,250.71 L1305.65,258.80 L1307.66,266.89 L1309.66,274.89 L1311.66,282.72 L1313.66,290.30 L1315.66,297.55 L1317.66,304.38 L1319.66,310.73 L1321.66,316.53 L1323.66,321.72 L1325.66,326.24 L1327.67,330.04 L1329.67,333.09 L1331.67,335.36 L1333.67,336.81 L1335.67,337.43 L1337.67,337.23 L1339.67,336.21 L1341.67,334.40 L1343.67,331.80 L1345.68,328.44 L1347.68,324.37 L1349.68,319.62 L1351.68,314.25 L1353.68,308.31 L1355.68,301.87 L1357.68,294.99 L1359.68,287.75 L1361.68,280.22 L1363.68,272.49 L1365.69,264.64 L1367.69,256.75 L1369.69,248.91 L1371.69,241.19 L1373.69,233.69 L1375.69,226.48 L1377.69,219.63 L1379.69,213.23 L1381.69,207.34 L1383.70,202.02 L1385.70,197.32 L1387.70,193.31 L1389.70,190.02 L1391.70,187.49 L1393.70,185.74 L1395.70,184.79 L1397.70,184.66 L1399.70,185.36 L1401.70,186.88 L1403.71,189.22 L1405.71,192.34 L1407.71,196.22 L1409.71,200.83 L1411.71,206.10 L1413.71,211.99 L1415.71,218.44 L1417.71,225.39 L1419.71,232.76 L1421.72,240.49 L1423.72,248.49 L1425.72,256.68 L1427.72,264.98 L1429.72,273.31 L1431.72,281.58 L1433.72,289.72 L1435.72,297.63 L1437.72,305.25 L1439.73,312.49 L1441.73,319.27 L1443.73,325.55 L1445.73,331.24 L1447.73,336.29 L1449.73,340.65 L1451.73,344.29 L1453.73,347.15 L1455.73,349.22 L1457.73,350.46 L1459.74,350.88 L1461.74,350.46 L1463.74,349.20 L1465.74,347.11 L1467.74,344.22 L1469.74,340.55 L1471.74,336.14 L1473.74,331.04 L1475.74,325.29 L1477.75,318.95 L1479.75,312.08 L1481.75,304.76 L1483.75,297.05 L1485.75,289.04 L1487.75,280.79 L1489.75,272.40 L1491.75,263.95 L1493.75,255.52 L1495.75,247.19 L1497.76,239.05 L1499.76,231.18 L1501.76,223.66 L1503.76,216.56 L1505.76,209.95 L1507.76,203.89 L1509.76,198.46 L1511.76,193.70 L1513.76,189.65 L1515.77,186.37 L1517.77,183.88 L1519.77,182.20 L1521.77,181.36 L1523.77,181.36 L1525.77,182.17 L1527.77,183.77 L1529.77,186.17 L1531.77,189.32 L1533.77,193.19 L1535.78,197.76 L1537.78,202.96 L1539.78,208.75 L1541.78,215.06 L1543.78,221.84 L1545.78,229.01 L1547.78,236.50 L1549.78,244.24 L1551.78,252.13 L1553.79,260.11 L1555.79,268.08 L1557.79,275.98 L1559.79,283.71 L1561.79,291.20 L1563.79,298.37 L1565.79,305.15 L1567.79,311.47 L1569.79,317.25 L1571.80,322.46 L1573.80,327.02 L1575.80,330.89 L1577.80,334.04 L1579.80,336.43 L1581.80,338.04 L1583.80,338.85 L1585.80,338.85 L1587.80,338.07 L1589.80,336.50 L1591.81,334.17 L1593.81,331.11 L1595.81,327.34 L1597.81,322.90 L1599.81,317.84 L1601.81,312.22 L1603.81,306.09 L1605.81,299.52 L1607.81,292.57 L1609.82,285.32 L1611.82,277.85 L1613.82,270.23 L1615.82,262.54 L1617.82,254.87 L1619.82,247.28 L1621.82,239.88 L1623.82,232.72 L1625.82,225.89 L1627.82,219.46 L1629.83,213.49 L1631.83,208.06 L1633.83,203.20 L1635.83,198.98 L1637.83,195.45 L1639.83,192.63 L1641.83,190.55 L1643.83,189.25 L1645.83,188.72 L1647.84,188.99 L1649.84,190.05 L1651.84,191.90 L1653.84,194.51 L1655.84,197.86 L1657.84,201.91 L1659.84,206.63 L1661.84,211.96 L1663.84,217.84 L1665.84,224.23 L1667.85,231.05 L1669.85,238.23 L1671.85,245.71 L1673.85,253.39 L1675.85,261.21 L1677.85,269.08 L1679.85,276.93 L1681.85,284.67 L1683.85,292.22 L1685.86,299.50 L1687.86,306.45 L1689.86,312.99 L1691.86,319.05 L1693.86,324.57 L1695.86,329.49 L1697.86,333.76 L1699.86,337.35 L1701.86,340.21 L1703.86,342.31 L1705.87,343.63 L1707.87,344.16 L1709.87,344.00 L1711.87,343.37 L1713.87,342.25 L1715.87,340.68 L1717.87,338.64 L1719.87,336.16 L1721.87,333.25 L1723.88,329.94 L1725.88,326.22 L1727.88,322.15 L1729.88,317.72 L1731.88,312.99 L1733.88,307.96 L1735.88,302.68 L1737.88,297.18 L1739.88,291.48 L1741.89,285.63 L1743.89,279.67 L1745.89,273.62 L1747.89,267.52 L1749.89,261.42 L1751.89,255.34" fill="none" stroke="#3a8fd0" stroke-width="2.7"/></g>
<line x1="71.4" x2="71.4" y1="243.4" y2="406" stroke="#2a86cc" stroke-width="2.6"/>
<rect x="70" y="405" width="1682" height="2" fill="#2a84c8"/>
<circle cx="101.7" cy="332.2" r="3.7" fill="#13808c" stroke="#fff" stroke-width="1.1"/>
<circle cx="161.4" cy="177.2" r="3.7" fill="#3c9ad9" stroke="#fff" stroke-width="1.1"/>
<circle cx="225.1" cy="367.7" r="3.7" fill="#13808c" stroke="#fff" stroke-width="1.1"/>
<circle cx="288.6" cy="177.5" r="3.7" fill="#3c9ad9" stroke="#fff" stroke-width="1.1"/>
<circle cx="348.1" cy="334.1" r="3.7" fill="#13808c" stroke="#fff" stroke-width="1.1"/>
<circle cx="408.0" cy="174.9" r="3.7" fill="#3c9ad9" stroke="#fff" stroke-width="1.1"/>
<circle cx="471.5" cy="368.0" r="3.7" fill="#13808c" stroke="#fff" stroke-width="1.1"/>
<circle cx="534.9" cy="177.5" r="3.7" fill="#3c9ad9" stroke="#fff" stroke-width="1.1"/>
<circle cx="594.6" cy="335.6" r="3.7" fill="#13808c" stroke="#fff" stroke-width="1.1"/>
<circle cx="654.6" cy="174.9" r="3.7" fill="#3c9ad9" stroke="#fff" stroke-width="1.1"/>
<circle cx="718.2" cy="366.2" r="3.7" fill="#13808c" stroke="#fff" stroke-width="1.1"/>
<circle cx="781.4" cy="178.3" r="3.7" fill="#3c9ad9" stroke="#fff" stroke-width="1.1"/>
<circle cx="841.4" cy="336.3" r="3.7" fill="#13808c" stroke="#fff" stroke-width="1.1"/>
<circle cx="901.6" cy="176.8" r="3.7" fill="#3c9ad9" stroke="#fff" stroke-width="1.1"/>
<circle cx="965.0" cy="362.4" r="3.7" fill="#13808c" stroke="#fff" stroke-width="1.1"/>
<circle cx="1028.0" cy="179.0" r="3.7" fill="#3c9ad9" stroke="#fff" stroke-width="1.1"/>
<circle cx="1088.5" cy="336.7" r="3.7" fill="#13808c" stroke="#fff" stroke-width="1.1"/>
<circle cx="1148.9" cy="180.1" r="3.7" fill="#3c9ad9" stroke="#fff" stroke-width="1.1"/>
<circle cx="1211.9" cy="357.2" r="3.7" fill="#13808c" stroke="#fff" stroke-width="1.1"/>
<circle cx="1275.1" cy="180.1" r="3.7" fill="#3c9ad9" stroke="#fff" stroke-width="1.1"/>
<circle cx="1336.2" cy="337.5" r="3.7" fill="#13808c" stroke="#fff" stroke-width="1.1"/>
<circle cx="1397.0" cy="184.6" r="3.7" fill="#3c9ad9" stroke="#fff" stroke-width="1.1"/>
<circle cx="1459.7" cy="350.9" r="3.7" fill="#13808c" stroke="#fff" stroke-width="1.1"/>
<circle cx="1522.8" cy="181.3" r="3.7" fill="#3c9ad9" stroke="#fff" stroke-width="1.1"/>
<circle cx="1584.8" cy="339.0" r="3.7" fill="#13808c" stroke="#fff" stroke-width="1.1"/>
<circle cx="1646.2" cy="188.7" r="3.7" fill="#3c9ad9" stroke="#fff" stroke-width="1.1"/>
<circle cx="1708.2" cy="344.2" r="3.7" fill="#13808c" stroke="#fff" stroke-width="1.1"/>
</svg>
<div style="position:absolute;left:0px;top:122px;width:69px;height:284px;background:#f4f4f4"></div>
<div style="position:absolute;left:0;top:120px;width:69px;height:286px;overflow:hidden">
<div class="t" style="left:-40px;top:271.4px;width:107px;height:16px;line-height:16px;text-align:right;font-size:12px;letter-spacing:-0.15px;color:#222">-0.1m (-0.4ft)</div>
<div class="t" style="left:-40px;top:240.1px;width:107px;height:16px;line-height:16px;text-align:right;font-size:12px;letter-spacing:-0.15px;color:#222">0.7m (2.4ft)</div>
<div class="t" style="left:-40px;top:208.9px;width:107px;height:16px;line-height:16px;text-align:right;font-size:12px;letter-spacing:-0.15px;color:#222">1.6m (5.2ft)</div>
<div class="t" style="left:-40px;top:177.6px;width:107px;height:16px;line-height:16px;text-align:right;font-size:12px;letter-spacing:-0.15px;color:#222">2.4m (8ft)</div>
<div class="t" style="left:-40px;top:146.4px;width:107px;height:16px;line-height:16px;text-align:right;font-size:12px;letter-spacing:-0.15px;color:#222">3.3m (10.8ft)</div>
<div class="t" style="left:-40px;top:115.1px;width:107px;height:16px;line-height:16px;text-align:right;font-size:12px;letter-spacing:-0.15px;color:#222">4.1m (13.6ft)</div>
<div class="t" style="left:-40px;top:83.9px;width:107px;height:16px;line-height:16px;text-align:right;font-size:12px;letter-spacing:-0.15px;color:#222">5m (16.3ft)</div>
<div class="t" style="left:-40px;top:52.6px;width:107px;height:16px;line-height:16px;text-align:right;font-size:12px;letter-spacing:-0.15px;color:#222">5.8m (19.1ft)</div>
<div class="t" style="left:-40px;top:21.4px;width:107px;height:16px;line-height:16px;text-align:right;font-size:12px;letter-spacing:-0.15px;color:#222">6.7m (21.9ft)</div>
<div class="t" style="left:-40px;top:-9.9px;width:107px;height:16px;line-height:16px;text-align:right;font-size:12px;letter-spacing:-0.15px;color:#222">7.6m (24.7ft)</div>
</div>
<div style="position:absolute;left:0px;top:406px;width:70px;height:2px;background:#264b6c"></div>
<div style="position:absolute;left:0px;top:408px;width:69px;height:118px;background:#f4f4f4"></div>
<div style="position:absolute;left:70px;top:409px;width:1682px;height:57px;background:#f4f9fd"></div>
<div style="position:absolute;left:70px;top:407px;width:1682px;height:2px;background:#2a4f70"></div>
<div style="position:absolute;left:70px;top:466px;width:1682px;height:60px;background:#fff"></div>
<div style="position:absolute;left:0px;top:466px;width:1752px;height:1px;background:#e8e8e8"></div>
<div style="position:absolute;left:0px;top:526px;width:1752px;height:2px;background:#1f4a6e"></div>
<div style="position:absolute;left:0px;top:528px;width:1752px;height:45px;background:#fdfdef"></div>
<div style="position:absolute;left:0px;top:573px;width:1752px;height:1px;background:#ebebeb"></div>
<div style="position:absolute;left:0px;top:574px;width:69px;height:78px;background:#f4f4f4"></div>
<div style="position:absolute;left:70px;top:574px;width:1682px;height:78px;background:#fff"></div>
<div style="position:absolute;left:0px;top:652px;width:1752px;height:1px;background:#2c5478"></div>
<div style="position:absolute;left:0px;top:653px;width:69px;height:106px;background:#f4f4f4"></div>
<div style="position:absolute;left:70px;top:653px;width:1682px;height:106px;background:#fff"></div>
<div style="position:absolute;left:0px;top:698px;width:69px;height:1px;background:#e6e6e6"></div>
<div style="position:absolute;left:0px;top:759px;width:1752px;height:1px;background:#2c5478"></div>
<div style="position:absolute;left:0px;top:760px;width:1752px;height:27px;background:#fafafa"></div>
<div class="t" style="left:120.5px;top:416.3px;width:80px;height:15px;line-height:15px;color:#4a86c5;font-weight:bold;font-size:13px">8:53AM</div>
<div class="t" style="left:120.5px;top:429.9px;width:80px;height:15px;line-height:15px;color:#333;font-size:13px;letter-spacing:-0.4px">6.05m</div>
<div class="t" style="left:120.5px;top:444.7px;width:80px;height:15px;line-height:15px;color:#333;font-size:12.5px;letter-spacing:-0.3px">(19.85ft)</div>
<div class="t" style="left:240.5px;top:416.3px;width:80px;height:15px;line-height:15px;color:#4a86c5;font-weight:bold;font-size:13px">9:36PM</div>
<div class="t" style="left:240.5px;top:429.9px;width:80px;height:15px;line-height:15px;color:#333;font-size:13px;letter-spacing:-0.4px">6.04m</div>
<div class="t" style="left:240.5px;top:444.7px;width:80px;height:15px;line-height:15px;color:#333;font-size:12.5px;letter-spacing:-0.3px">(19.82ft)</div>
<div class="t" style="left:360.5px;top:416.3px;width:80px;height:15px;line-height:15px;color:#4a86c5;font-weight:bold;font-size:13px">9:32AM</div>
<div class="t" style="left:360.5px;top:429.9px;width:80px;height:15px;line-height:15px;color:#333;font-size:13px;letter-spacing:-0.4px">6.11m</div>
<div class="t" style="left:360.5px;top:444.7px;width:80px;height:15px;line-height:15px;color:#333;font-size:12.5px;letter-spacing:-0.3px">(20.05ft)</div>
<div class="t" style="left:480.5px;top:416.3px;width:80px;height:15px;line-height:15px;color:#4a86c5;font-weight:bold;font-size:13px">10:13PM</div>
<div class="t" style="left:480.5px;top:429.9px;width:80px;height:15px;line-height:15px;color:#333;font-size:13px;letter-spacing:-0.4px">6.04m</div>
<div class="t" style="left:480.5px;top:444.7px;width:80px;height:15px;line-height:15px;color:#333;font-size:12.5px;letter-spacing:-0.3px">(19.82ft)</div>
<div class="t" style="left:600.5px;top:416.3px;width:80px;height:15px;line-height:15px;color:#4a86c5;font-weight:bold;font-size:13px">10:11AM</div>
<div class="t" style="left:600.5px;top:429.9px;width:80px;height:15px;line-height:15px;color:#333;font-size:13px;letter-spacing:-0.4px">6.11m</div>
<div class="t" style="left:600.5px;top:444.7px;width:80px;height:15px;line-height:15px;color:#333;font-size:12.5px;letter-spacing:-0.3px">(20.05ft)</div>
<div class="t" style="left:720.5px;top:416.3px;width:80px;height:15px;line-height:15px;color:#4a86c5;font-weight:bold;font-size:13px">10:51PM</div>
<div class="t" style="left:720.5px;top:429.9px;width:80px;height:15px;line-height:15px;color:#333;font-size:13px;letter-spacing:-0.4px">6.02m</div>
<div class="t" style="left:720.5px;top:444.7px;width:80px;height:15px;line-height:15px;color:#333;font-size:12.5px;letter-spacing:-0.3px">(19.75ft)</div>
<div class="t" style="left:840.8px;top:416.3px;width:80px;height:15px;line-height:15px;color:#4a86c5;font-weight:bold;font-size:13px">10:52AM</div>
<div class="t" style="left:840.8px;top:429.9px;width:80px;height:15px;line-height:15px;color:#333;font-size:13px;letter-spacing:-0.4px">6.06m</div>
<div class="t" style="left:840.8px;top:444.7px;width:80px;height:15px;line-height:15px;color:#333;font-size:12.5px;letter-spacing:-0.3px">(19.88ft)</div>
<div class="t" style="left:961.2px;top:416.3px;width:80px;height:15px;line-height:15px;color:#4a86c5;font-weight:bold;font-size:13px">11:30PM</div>
<div class="t" style="left:961.2px;top:429.9px;width:80px;height:15px;line-height:15px;color:#333;font-size:13px;letter-spacing:-0.4px">6.00m</div>
<div class="t" style="left:961.2px;top:444.7px;width:80px;height:15px;line-height:15px;color:#333;font-size:12.5px;letter-spacing:-0.3px">(19.67ft)</div>
<div class="t" style="left:1081.5px;top:416.3px;width:80px;height:15px;line-height:15px;color:#4a86c5;font-weight:bold;font-size:13px">11:35AM</div>
<div class="t" style="left:1081.5px;top:429.9px;width:80px;height:15px;line-height:15px;color:#333;font-size:13px;letter-spacing:-0.4px">5.97m</div>
<div class="t" style="left:1081.5px;top:444.7px;width:80px;height:15px;line-height:15px;color:#333;font-size:12.5px;letter-spacing:-0.3px">(19.59ft)</div>
<div class="t" style="left:1262.5px;top:416.3px;width:80px;height:15px;line-height:15px;color:#4a86c5;font-weight:bold;font-size:13px">00:12AM</div>
<div class="t" style="left:1262.5px;top:429.9px;width:80px;height:15px;line-height:15px;color:#333;font-size:13px;letter-spacing:-0.4px">5.97m</div>
<div class="t" style="left:1262.5px;top:444.7px;width:80px;height:15px;line-height:15px;color:#333;font-size:12.5px;letter-spacing:-0.3px">(19.59ft)</div>
<div class="t" style="left:1384.0px;top:416.3px;width:80px;height:15px;line-height:15px;color:#4a86c5;font-weight:bold;font-size:13px">12:23PM</div>
<div class="t" style="left:1384.0px;top:429.9px;width:80px;height:15px;line-height:15px;color:#333;font-size:13px;letter-spacing:-0.4px">5.85m</div>
<div class="t" style="left:1384.0px;top:444.7px;width:80px;height:15px;line-height:15px;color:#333;font-size:12.5px;letter-spacing:-0.3px">(19.19ft)</div>
<div class="t" style="left:1505.5px;top:416.3px;width:80px;height:15px;line-height:15px;color:#4a86c5;font-weight:bold;font-size:13px">00:57AM</div>
<div class="t" style="left:1505.5px;top:429.9px;width:80px;height:15px;line-height:15px;color:#333;font-size:13px;letter-spacing:-0.4px">5.94m</div>
<div class="t" style="left:1505.5px;top:444.7px;width:80px;height:15px;line-height:15px;color:#333;font-size:12.5px;letter-spacing:-0.3px">(19.49ft)</div>
<div class="t" style="left:1626.5px;top:416.3px;width:80px;height:15px;line-height:15px;color:#4a86c5;font-weight:bold;font-size:13px">1:17PM</div>
<div class="t" style="left:1626.5px;top:429.9px;width:80px;height:15px;line-height:15px;color:#333;font-size:13px;letter-spacing:-0.4px">5.74m</div>
<div class="t" style="left:1626.5px;top:444.7px;width:80px;height:15px;line-height:15px;color:#333;font-size:12.5px;letter-spacing:-0.3px">(18.83ft)</div>
<div class="t" style="left:60.0px;top:475.3px;width:80px;height:15px;line-height:15px;color:#17808f;font-weight:bold;font-size:13px">2:55AM</div>
<div class="t" style="left:60.0px;top:488.9px;width:80px;height:15px;line-height:15px;color:#333;font-size:13px;letter-spacing:-0.4px">1.89m</div>
<div class="t" style="left:60.0px;top:503.5px;width:80px;height:15px;line-height:15px;color:#333;font-size:12.5px;letter-spacing:-0.3px">(6.2ft)</div>
<div class="t" style="left:180.5px;top:475.3px;width:80px;height:15px;line-height:15px;color:#17808f;font-weight:bold;font-size:13px">3:15PM</div>
<div class="t" style="left:180.5px;top:488.9px;width:80px;height:15px;line-height:15px;color:#333;font-size:13px;letter-spacing:-0.4px">0.94m</div>
<div class="t" style="left:180.5px;top:503.5px;width:80px;height:15px;line-height:15px;color:#333;font-size:12.5px;letter-spacing:-0.3px">(3.08ft)</div>
<div class="t" style="left:300.5px;top:475.3px;width:80px;height:15px;line-height:15px;color:#17808f;font-weight:bold;font-size:13px">3:33AM</div>
<div class="t" style="left:300.5px;top:488.9px;width:80px;height:15px;line-height:15px;color:#333;font-size:13px;letter-spacing:-0.4px">1.84m</div>
<div class="t" style="left:300.5px;top:503.5px;width:80px;height:15px;line-height:15px;color:#333;font-size:12.5px;letter-spacing:-0.3px">(6.04ft)</div>
<div class="t" style="left:420.5px;top:475.3px;width:80px;height:15px;line-height:15px;color:#17808f;font-weight:bold;font-size:13px">3:53PM</div>
<div class="t" style="left:420.5px;top:488.9px;width:80px;height:15px;line-height:15px;color:#333;font-size:13px;letter-spacing:-0.4px">0.93m</div>
<div class="t" style="left:420.5px;top:503.5px;width:80px;height:15px;line-height:15px;color:#333;font-size:12.5px;letter-spacing:-0.3px">(3.05ft)</div>
<div class="t" style="left:540.5px;top:475.3px;width:80px;height:15px;line-height:15px;color:#17808f;font-weight:bold;font-size:13px">4:11AM</div>
<div class="t" style="left:540.5px;top:488.9px;width:80px;height:15px;line-height:15px;color:#333;font-size:13px;letter-spacing:-0.4px">1.80m</div>
<div class="t" style="left:540.5px;top:503.5px;width:80px;height:15px;line-height:15px;color:#333;font-size:12.5px;letter-spacing:-0.3px">(5.91ft)</div>
<div class="t" style="left:660.5px;top:475.3px;width:80px;height:15px;line-height:15px;color:#17808f;font-weight:bold;font-size:13px">4:32PM</div>
<div class="t" style="left:660.5px;top:488.9px;width:80px;height:15px;line-height:15px;color:#333;font-size:13px;letter-spacing:-0.4px">0.98m</div>
<div class="t" style="left:660.5px;top:503.5px;width:80px;height:15px;line-height:15px;color:#333;font-size:12.5px;letter-spacing:-0.3px">(3.22ft)</div>
<div class="t" style="left:780.5px;top:475.3px;width:80px;height:15px;line-height:15px;color:#17808f;font-weight:bold;font-size:13px">4:51AM</div>
<div class="t" style="left:780.5px;top:488.9px;width:80px;height:15px;line-height:15px;color:#333;font-size:13px;letter-spacing:-0.4px">1.78m</div>
<div class="t" style="left:780.5px;top:503.5px;width:80px;height:15px;line-height:15px;color:#333;font-size:12.5px;letter-spacing:-0.3px">(5.84ft)</div>
<div class="t" style="left:901.2px;top:475.3px;width:80px;height:15px;line-height:15px;color:#17808f;font-weight:bold;font-size:13px">5:12PM</div>
<div class="t" style="left:901.2px;top:488.9px;width:80px;height:15px;line-height:15px;color:#333;font-size:13px;letter-spacing:-0.4px">1.08m</div>
<div class="t" style="left:901.2px;top:503.5px;width:80px;height:15px;line-height:15px;color:#333;font-size:12.5px;letter-spacing:-0.3px">(3.54ft)</div>
<div class="t" style="left:1021.2px;top:475.3px;width:80px;height:15px;line-height:15px;color:#17808f;font-weight:bold;font-size:13px">5:33AM</div>
<div class="t" style="left:1021.2px;top:488.9px;width:80px;height:15px;line-height:15px;color:#333;font-size:13px;letter-spacing:-0.4px">1.77m</div>
<div class="t" style="left:1021.2px;top:503.5px;width:80px;height:15px;line-height:15px;color:#333;font-size:12.5px;letter-spacing:-0.3px">(5.81ft)</div>
<div class="t" style="left:1141.5px;top:475.3px;width:80px;height:15px;line-height:15px;color:#17808f;font-weight:bold;font-size:13px">5:53PM</div>
<div class="t" style="left:1141.5px;top:488.9px;width:80px;height:15px;line-height:15px;color:#333;font-size:13px;letter-spacing:-0.4px">1.22m</div>
<div class="t" style="left:1141.5px;top:503.5px;width:80px;height:15px;line-height:15px;color:#333;font-size:12.5px;letter-spacing:-0.3px">(4ft)</div>
<div class="t" style="left:1323.5px;top:475.3px;width:80px;height:15px;line-height:15px;color:#17808f;font-weight:bold;font-size:13px">6:18AM</div>
<div class="t" style="left:1323.5px;top:488.9px;width:80px;height:15px;line-height:15px;color:#333;font-size:13px;letter-spacing:-0.4px">1.75m</div>
<div class="t" style="left:1323.5px;top:503.5px;width:80px;height:15px;line-height:15px;color:#333;font-size:12.5px;letter-spacing:-0.3px">(5.74ft)</div>
<div class="t" style="left:1444.5px;top:475.3px;width:80px;height:15px;line-height:15px;color:#17808f;font-weight:bold;font-size:13px">6:39PM</div>
<div class="t" style="left:1444.5px;top:488.9px;width:80px;height:15px;line-height:15px;color:#333;font-size:13px;letter-spacing:-0.4px">1.39m</div>
<div class="t" style="left:1444.5px;top:503.5px;width:80px;height:15px;line-height:15px;color:#333;font-size:12.5px;letter-spacing:-0.3px">(4.56ft)</div>
<div class="t" style="left:1566.5px;top:475.3px;width:80px;height:15px;line-height:15px;color:#17808f;font-weight:bold;font-size:13px">7:09AM</div>
<div class="t" style="left:1566.5px;top:488.9px;width:80px;height:15px;line-height:15px;color:#333;font-size:13px;letter-spacing:-0.4px">1.71m</div>
<div class="t" style="left:1566.5px;top:503.5px;width:80px;height:15px;line-height:15px;color:#333;font-size:12.5px;letter-spacing:-0.3px">(5.61ft)</div>
<div class="t" style="left:1687.0px;top:475.3px;width:80px;height:15px;line-height:15px;color:#17808f;font-weight:bold;font-size:13px">7:29PM</div>
<div class="t" style="left:1687.0px;top:488.9px;width:80px;height:15px;line-height:15px;color:#333;font-size:13px;letter-spacing:-0.4px">1.57m</div>
<div class="t" style="left:1687.0px;top:503.5px;width:80px;height:15px;line-height:15px;color:#333;font-size:12.5px;letter-spacing:-0.3px">(5.15ft)</div>
<div class="t" style="left:0.5px;top:420.5px;width:69px;height:17px;line-height:17px;color:#4a86c5;font-weight:bold;font-size:14.5px">HIGH</div>
<div class="t" style="left:0.5px;top:437.0px;width:69px;height:17px;line-height:17px;color:#333;font-size:15px">(-03)</div>
<div class="t" style="left:0.5px;top:479.5px;width:69px;height:17px;line-height:17px;color:#17808f;font-weight:bold;font-size:14.5px">LOW</div>
<div class="t" style="left:0.5px;top:495.5px;width:69px;height:17px;line-height:17px;color:#333;font-size:15px">(-03)</div>
<div style="position:absolute;left:251px;top:528px;width:59px;height:45px;background:#eeeeee"></div>
<svg style="position:absolute;left:89.0px;top:533px" width="22" height="18" viewBox="0 0 22 18"><g fill="none" stroke="#222" stroke-width="1.35"><path d="M5.3,11.3 A5.8,5.8 0 1 1 16.7,11.3"/><path d="M11,1 V3.8"/><path d="M4.8,3.2 L6.8,5.1"/><path d="M17.2,3.2 L15.2,5.1"/><path d="M1,11 H3.8"/><path d="M18.2,11 H21"/><path d="M1,14 H7 L11,11 L15,14 H21"/></g></svg>
<div class="t" style="left:60.0px;top:553.0px;width:80px;height:15px;line-height:15px;color:#333;font-size:13px">4:48AM</div>
<svg style="position:absolute;left:269.5px;top:533px" width="22" height="18" viewBox="0 0 22 18"><g fill="none" stroke="#222" stroke-width="1.35"><path d="M5.3,11.3 A5.8,5.8 0 1 1 16.7,11.3"/><path d="M11,1 V3.8"/><path d="M4.8,3.2 L6.8,5.1"/><path d="M17.2,3.2 L15.2,5.1"/><path d="M1,11 H3.8"/><path d="M18.2,11 H21"/><path d="M1,14 H7 L11,17 L15,14 H21"/></g></svg>
<div class="t" style="left:240.5px;top:553.0px;width:80px;height:15px;line-height:15px;color:#333;font-size:13px">10:01PM</div>
<div style="position:absolute;left:491px;top:528px;width:59px;height:45px;background:#eeeeee"></div>
<svg style="position:absolute;left:329.5px;top:533px" width="22" height="18" viewBox="0 0 22 18"><g fill="none" stroke="#222" stroke-width="1.35"><path d="M5.3,11.3 A5.8,5.8 0 1 1 16.7,11.3"/><path d="M11,1 V3.8"/><path d="M4.8,3.2 L6.8,5.1"/><path d="M17.2,3.2 L15.2,5.1"/><path d="M1,11 H3.8"/><path d="M18.2,11 H21"/><path d="M1,14 H7 L11,11 L15,14 H21"/></g></svg>
<div class="t" style="left:300.5px;top:553.0px;width:80px;height:15px;line-height:15px;color:#333;font-size:13px">4:49AM</div>
<svg style="position:absolute;left:509.5px;top:533px" width="22" height="18" viewBox="0 0 22 18"><g fill="none" stroke="#222" stroke-width="1.35"><path d="M5.3,11.3 A5.8,5.8 0 1 1 16.7,11.3"/><path d="M11,1 V3.8"/><path d="M4.8,3.2 L6.8,5.1"/><path d="M17.2,3.2 L15.2,5.1"/><path d="M1,11 H3.8"/><path d="M18.2,11 H21"/><path d="M1,14 H7 L11,17 L15,14 H21"/></g></svg>
<div class="t" style="left:480.5px;top:553.0px;width:80px;height:15px;line-height:15px;color:#333;font-size:13px">10:01PM</div>
<div style="position:absolute;left:731px;top:528px;width:59px;height:45px;background:#eeeeee"></div>
<svg style="position:absolute;left:569.5px;top:533px" width="22" height="18" viewBox="0 0 22 18"><g fill="none" stroke="#222" stroke-width="1.35"><path d="M5.3,11.3 A5.8,5.8 0 1 1 16.7,11.3"/><path d="M11,1 V3.8"/><path d="M4.8,3.2 L6.8,5.1"/><path d="M17.2,3.2 L15.2,5.1"/><path d="M1,11 H3.8"/><path d="M18.2,11 H21"/><path d="M1,14 H7 L11,11 L15,14 H21"/></g></svg>
<div class="t" style="left:540.5px;top:553.0px;width:80px;height:15px;line-height:15px;color:#333;font-size:13px">4:49AM</div>
<svg style="position:absolute;left:749.5px;top:533px" width="22" height="18" viewBox="0 0 22 18"><g fill="none" stroke="#222" stroke-width="1.35"><path d="M5.3,11.3 A5.8,5.8 0 1 1 16.7,11.3"/><path d="M11,1 V3.8"/><path d="M4.8,3.2 L6.8,5.1"/><path d="M17.2,3.2 L15.2,5.1"/><path d="M1,11 H3.8"/><path d="M18.2,11 H21"/><path d="M1,14 H7 L11,17 L15,14 H21"/></g></svg>
<div class="t" style="left:720.5px;top:553.0px;width:80px;height:15px;line-height:15px;color:#333;font-size:13px">10:02PM</div>
<div style="position:absolute;left:972px;top:528px;width:59px;height:45px;background:#eeeeee"></div>
<svg style="position:absolute;left:809.5px;top:533px" width="22" height="18" viewBox="0 0 22 18"><g fill="none" stroke="#222" stroke-width="1.35"><path d="M5.3,11.3 A5.8,5.8 0 1 1 16.7,11.3"/><path d="M11,1 V3.8"/><path d="M4.8,3.2 L6.8,5.1"/><path d="M17.2,3.2 L15.2,5.1"/><path d="M1,11 H3.8"/><path d="M18.2,11 H21"/><path d="M1,14 H7 L11,11 L15,14 H21"/></g></svg>
<div class="t" style="left:780.5px;top:553.0px;width:80px;height:15px;line-height:15px;color:#333;font-size:13px">4:50AM</div>
<svg style="position:absolute;left:990.2px;top:533px" width="22" height="18" viewBox="0 0 22 18"><g fill="none" stroke="#222" stroke-width="1.35"><path d="M5.3,11.3 A5.8,5.8 0 1 1 16.7,11.3"/><path d="M11,1 V3.8"/><path d="M4.8,3.2 L6.8,5.1"/><path d="M17.2,3.2 L15.2,5.1"/><path d="M1,11 H3.8"/><path d="M18.2,11 H21"/><path d="M1,14 H7 L11,17 L15,14 H21"/></g></svg>
<div class="t" style="left:961.2px;top:553.0px;width:80px;height:15px;line-height:15px;color:#333;font-size:13px">10:02PM</div>
<div style="position:absolute;left:1212px;top:528px;width:59px;height:45px;background:#eeeeee"></div>
<svg style="position:absolute;left:1050.2px;top:533px" width="22" height="18" viewBox="0 0 22 18"><g fill="none" stroke="#222" stroke-width="1.35"><path d="M5.3,11.3 A5.8,5.8 0 1 1 16.7,11.3"/><path d="M11,1 V3.8"/><path d="M4.8,3.2 L6.8,5.1"/><path d="M17.2,3.2 L15.2,5.1"/><path d="M1,11 H3.8"/><path d="M18.2,11 H21"/><path d="M1,14 H7 L11,11 L15,14 H21"/></g></svg>
<div class="t" style="left:1021.2px;top:553.0px;width:80px;height:15px;line-height:15px;color:#333;font-size:13px">4:51AM</div>
<svg style="position:absolute;left:1230.5px;top:533px" width="22" height="18" viewBox="0 0 22 18"><g fill="none" stroke="#222" stroke-width="1.35"><path d="M5.3,11.3 A5.8,5.8 0 1 1 16.7,11.3"/><path d="M11,1 V3.8"/><path d="M4.8,3.2 L6.8,5.1"/><path d="M17.2,3.2 L15.2,5.1"/><path d="M1,11 H3.8"/><path d="M18.2,11 H21"/><path d="M1,14 H7 L11,17 L15,14 H21"/></g></svg>
<div class="t" style="left:1201.5px;top:553.0px;width:80px;height:15px;line-height:15px;color:#333;font-size:13px">10:02PM</div>
<div style="position:absolute;left:1455px;top:528px;width:59px;height:45px;background:#eeeeee"></div>
<svg style="position:absolute;left:1291.5px;top:533px" width="22" height="18" viewBox="0 0 22 18"><g fill="none" stroke="#222" stroke-width="1.35"><path d="M5.3,11.3 A5.8,5.8 0 1 1 16.7,11.3"/><path d="M11,1 V3.8"/><path d="M4.8,3.2 L6.8,5.1"/><path d="M17.2,3.2 L15.2,5.1"/><path d="M1,11 H3.8"/><path d="M18.2,11 H21"/><path d="M1,14 H7 L11,11 L15,14 H21"/></g></svg>
<div class="t" style="left:1262.5px;top:553.0px;width:80px;height:15px;line-height:15px;color:#333;font-size:13px">4:51AM</div>
<svg style="position:absolute;left:1473.5px;top:533px" width="22" height="18" viewBox="0 0 22 18"><g fill="none" stroke="#222" stroke-width="1.35"><path d="M5.3,11.3 A5.8,5.8 0 1 1 16.7,11.3"/><path d="M11,1 V3.8"/><path d="M4.8,3.2 L6.8,5.1"/><path d="M17.2,3.2 L15.2,5.1"/><path d="M1,11 H3.8"/><path d="M18.2,11 H21"/><path d="M1,14 H7 L11,17 L15,14 H21"/></g></svg>
<div class="t" style="left:1444.5px;top:553.0px;width:80px;height:15px;line-height:15px;color:#333;font-size:13px">10:02PM</div>
<div style="position:absolute;left:1697px;top:528px;width:60px;height:45px;background:#eeeeee"></div>
<svg style="position:absolute;left:1534.5px;top:533px" width="22" height="18" viewBox="0 0 22 18"><g fill="none" stroke="#222" stroke-width="1.35"><path d="M5.3,11.3 A5.8,5.8 0 1 1 16.7,11.3"/><path d="M11,1 V3.8"/><path d="M4.8,3.2 L6.8,5.1"/><path d="M17.2,3.2 L15.2,5.1"/><path d="M1,11 H3.8"/><path d="M18.2,11 H21"/><path d="M1,14 H7 L11,11 L15,14 H21"/></g></svg>
<div class="t" style="left:1505.5px;top:553.0px;width:80px;height:15px;line-height:15px;color:#333;font-size:13px">4:52AM</div>
<svg style="position:absolute;left:1716.0px;top:533px" width="22" height="18" viewBox="0 0 22 18"><g fill="none" stroke="#222" stroke-width="1.35"><path d="M5.3,11.3 A5.8,5.8 0 1 1 16.7,11.3"/><path d="M11,1 V3.8"/><path d="M4.8,3.2 L6.8,5.1"/><path d="M17.2,3.2 L15.2,5.1"/><path d="M1,11 H3.8"/><path d="M18.2,11 H21"/><path d="M1,14 H7 L11,17 L15,14 H21"/></g></svg>
<div class="t" style="left:1687.0px;top:553.0px;width:80px;height:15px;line-height:15px;color:#333;font-size:13px">10:02PM</div>
<div class="t" style="left:0.5px;top:541.5px;width:69px;height:17px;line-height:17px;color:#333;font-size:15px">Sun</div>
<svg style="position:absolute;left:30px;top:532px" width="10" height="36" viewBox="0 0 10 36"><path d="M0.5,8.5 L5,4 L9.5,8.5 Z M0.5,26.4 L9.5,26.4 L5,31 Z" fill="#111"/></svg>
<svg style="position:absolute;left:90.2px;top:580.7px" width="22" height="22" viewBox="0 0 22 22"><circle cx="11" cy="11" r="9.6" fill="#fff" stroke="#111" stroke-width="1.2"/><path d="M11,1.4000000000000004 A9.6,9.6 0 0 0 11,20.6 A7.30,9.6 0 0 0 11,1.4000000000000004 Z" fill="#9a9a9a" stroke="#111" stroke-width="1.2"/></svg>
<svg style="position:absolute;left:89.0px;top:614px" width="22" height="18" viewBox="0 0 22 18"><g fill="none" stroke="#222" stroke-width="1.3"><path d="M4.2,9.3 A6.8,6.8 0 1 1 17.8,9.3"/><path d="M1,12 H7 L11,9 L15,12 H21"/></g></svg>
<div class="t" style="left:60.0px;top:632.2px;width:80px;height:15px;line-height:15px;color:#333;font-size:13px">5:29AM</div>
<svg style="position:absolute;left:270.7px;top:580.7px" width="22" height="22" viewBox="0 0 22 22"><circle cx="11" cy="11" r="9.6" fill="#fff" stroke="#111" stroke-width="1.2"/><path d="M11,1.4000000000000004 A9.6,9.6 0 0 0 11,20.6 A6.91,9.6 0 0 0 11,1.4000000000000004 Z" fill="#9a9a9a" stroke="#111" stroke-width="1.2"/></svg>
<svg style="position:absolute;left:269.5px;top:614px" width="22" height="18" viewBox="0 0 22 18"><g fill="none" stroke="#222" stroke-width="1.3"><path d="M4.2,9.3 A6.8,6.8 0 1 1 17.8,9.3"/><path d="M1,12 H7 L11,15 L15,12 H21"/></g></svg>
<div class="t" style="left:240.5px;top:632.2px;width:80px;height:15px;line-height:15px;color:#333;font-size:13px">11:48PM</div>
<svg style="position:absolute;left:390.7px;top:580.7px" width="22" height="22" viewBox="0 0 22 22"><circle cx="11" cy="11" r="9.6" fill="#fff" stroke="#111" stroke-width="1.2"/><path d="M11,1.4000000000000004 A9.6,9.6 0 0 0 11,20.6 A5.76,9.6 0 0 0 11,1.4000000000000004 Z" fill="#9a9a9a" stroke="#111" stroke-width="1.2"/></svg>
<svg style="position:absolute;left:389.5px;top:614px" width="22" height="18" viewBox="0 0 22 18"><g fill="none" stroke="#222" stroke-width="1.3"><path d="M4.2,9.3 A6.8,6.8 0 1 1 17.8,9.3"/><path d="M1,12 H7 L11,9 L15,12 H21"/></g></svg>
<div class="t" style="left:360.5px;top:632.2px;width:80px;height:15px;line-height:15px;color:#333;font-size:13px">6:46AM</div>
<svg style="position:absolute;left:570.7px;top:580.7px" width="22" height="22" viewBox="0 0 22 22"><circle cx="11" cy="11" r="9.6" fill="#fff" stroke="#111" stroke-width="1.2"/><path d="M11,1.4000000000000004 A9.6,9.6 0 0 0 11,20.6 A4.42,9.6 0 0 0 11,1.4000000000000004 Z" fill="#9a9a9a" stroke="#111" stroke-width="1.2"/></svg>
<svg style="position:absolute;left:569.5px;top:614px" width="22" height="18" viewBox="0 0 22 18"><g fill="none" stroke="#222" stroke-width="1.3"><path d="M4.2,9.3 A6.8,6.8 0 1 1 17.8,9.3"/><path d="M1,12 H7 L11,15 L15,12 H21"/></g></svg>
<div class="t" style="left:540.5px;top:632.2px;width:80px;height:15px;line-height:15px;color:#333;font-size:13px">00:08AM</div>
<svg style="position:absolute;left:630.7px;top:580.7px" width="22" height="22" viewBox="0 0 22 22"><circle cx="11" cy="11" r="9.6" fill="#fff" stroke="#111" stroke-width="1.2"/><path d="M11,1.4000000000000004 A9.6,9.6 0 0 0 11,20.6 A3.84,9.6 0 0 0 11,1.4000000000000004 Z" fill="#9a9a9a" stroke="#111" stroke-width="1.2"/></svg>
<svg style="position:absolute;left:629.5px;top:614px" width="22" height="18" viewBox="0 0 22 18"><g fill="none" stroke="#222" stroke-width="1.3"><path d="M4.2,9.3 A6.8,6.8 0 1 1 17.8,9.3"/><path d="M1,12 H7 L11,9 L15,12 H21"/></g></svg>
<div class="t" style="left:600.5px;top:632.2px;width:80px;height:15px;line-height:15px;color:#333;font-size:13px">8:07AM</div>
<svg style="position:absolute;left:810.7px;top:580.7px" width="22" height="22" viewBox="0 0 22 22"><circle cx="11" cy="11" r="9.6" fill="#fff" stroke="#111" stroke-width="1.2"/><path d="M11,1.4000000000000004 A9.6,9.6 0 0 0 11,20.6 A2.30,9.6 0 0 0 11,1.4000000000000004 Z" fill="#9a9a9a" stroke="#111" stroke-width="1.2"/></svg>
<svg style="position:absolute;left:809.5px;top:614px" width="22" height="18" viewBox="0 0 22 18"><g fill="none" stroke="#222" stroke-width="1.3"><path d="M4.2,9.3 A6.8,6.8 0 1 1 17.8,9.3"/><path d="M1,12 H7 L11,15 L15,12 H21"/></g></svg>
<div class="t" style="left:780.5px;top:632.2px;width:80px;height:15px;line-height:15px;color:#333;font-size:13px">00:22AM</div>
<svg style="position:absolute;left:871.0px;top:580.7px" width="22" height="22" viewBox="0 0 22 22"><circle cx="11" cy="11" r="9.6" fill="#fff" stroke="#111" stroke-width="1.2"/><path d="M11,1.4000000000000004 A9.6,9.6 0 0 0 11,20.6 A1.92,9.6 0 0 0 11,1.4000000000000004 Z" fill="#9a9a9a" stroke="#111" stroke-width="1.2"/></svg>
<svg style="position:absolute;left:869.8px;top:614px" width="22" height="18" viewBox="0 0 22 18"><g fill="none" stroke="#222" stroke-width="1.3"><path d="M4.2,9.3 A6.8,6.8 0 1 1 17.8,9.3"/><path d="M1,12 H7 L11,9 L15,12 H21"/></g></svg>
<div class="t" style="left:840.8px;top:632.2px;width:80px;height:15px;line-height:15px;color:#333;font-size:13px">9:29AM</div>
<svg style="position:absolute;left:1051.5px;top:580.7px" width="22" height="22" viewBox="0 0 22 22"><circle cx="11" cy="11" r="9.6" fill="#fff" stroke="#111" stroke-width="1.2"/><path d="M11,1.4000000000000004 A9.6,9.6 0 0 0 11,20.6 A0.58,9.6 0 0 0 11,1.4000000000000004 Z" fill="#9a9a9a" stroke="#111" stroke-width="1.2"/></svg>
<svg style="position:absolute;left:1050.2px;top:614px" width="22" height="18" viewBox="0 0 22 18"><g fill="none" stroke="#222" stroke-width="1.3"><path d="M4.2,9.3 A6.8,6.8 0 1 1 17.8,9.3"/><path d="M1,12 H7 L11,15 L15,12 H21"/></g></svg>
<div class="t" style="left:1021.2px;top:632.2px;width:80px;height:15px;line-height:15px;color:#333;font-size:13px">00:32AM</div>
<svg style="position:absolute;left:1111.7px;top:580.7px" width="22" height="22" viewBox="0 0 22 22"><circle cx="11" cy="11" r="9.6" fill="#fff" stroke="#111" stroke-width="1.2"/><path d="M11,1.4000000000000004 A9.6,9.6 0 0 0 11,20.6 A0.00,9.6 0 0 0 11,1.4000000000000004 Z" fill="#9a9a9a" stroke="#111" stroke-width="1.2"/></svg>
<svg style="position:absolute;left:1110.5px;top:614px" width="22" height="18" viewBox="0 0 22 18"><g fill="none" stroke="#222" stroke-width="1.3"><path d="M4.2,9.3 A6.8,6.8 0 1 1 17.8,9.3"/><path d="M1,12 H7 L11,9 L15,12 H21"/></g></svg>
<div class="t" style="left:1081.5px;top:632.2px;width:80px;height:15px;line-height:15px;color:#333;font-size:13px">10:51AM</div>
<svg style="position:absolute;left:1292.7px;top:580.7px" width="22" height="22" viewBox="0 0 22 22"><circle cx="11" cy="11" r="9.6" fill="#fff" stroke="#111" stroke-width="1.2"/><path d="M11,1.4000000000000004 A9.6,9.6 0 0 0 11,20.6 A0.96,9.6 0 0 1 11,1.4000000000000004 Z" fill="#9a9a9a" stroke="#111" stroke-width="1.2"/></svg>
<svg style="position:absolute;left:1291.5px;top:614px" width="22" height="18" viewBox="0 0 22 18"><g fill="none" stroke="#222" stroke-width="1.3"><path d="M4.2,9.3 A6.8,6.8 0 1 1 17.8,9.3"/><path d="M1,12 H7 L11,15 L15,12 H21"/></g></svg>
<div class="t" style="left:1262.5px;top:632.2px;width:80px;height:15px;line-height:15px;color:#333;font-size:13px">00:41AM</div>
<svg style="position:absolute;left:1414.2px;top:580.7px" width="22" height="22" viewBox="0 0 22 22"><circle cx="11" cy="11" r="9.6" fill="#fff" stroke="#111" stroke-width="1.2"/><path d="M11,1.4000000000000004 A9.6,9.6 0 0 0 11,20.6 A1.54,9.6 0 0 1 11,1.4000000000000004 Z" fill="#9a9a9a" stroke="#111" stroke-width="1.2"/></svg>
<svg style="position:absolute;left:1413.0px;top:614px" width="22" height="18" viewBox="0 0 22 18"><g fill="none" stroke="#222" stroke-width="1.3"><path d="M4.2,9.3 A6.8,6.8 0 1 1 17.8,9.3"/><path d="M1,12 H7 L11,9 L15,12 H21"/></g></svg>
<div class="t" style="left:1384.0px;top:632.2px;width:80px;height:15px;line-height:15px;color:#333;font-size:13px">12:14PM</div>
<svg style="position:absolute;left:1535.7px;top:580.7px" width="22" height="22" viewBox="0 0 22 22"><circle cx="11" cy="11" r="9.6" fill="#fff" stroke="#111" stroke-width="1.2"/><path d="M11,1.4000000000000004 A9.6,9.6 0 0 0 11,20.6 A2.30,9.6 0 0 1 11,1.4000000000000004 Z" fill="#9a9a9a" stroke="#111" stroke-width="1.2"/></svg>
<svg style="position:absolute;left:1534.5px;top:614px" width="22" height="18" viewBox="0 0 22 18"><g fill="none" stroke="#222" stroke-width="1.3"><path d="M4.2,9.3 A6.8,6.8 0 1 1 17.8,9.3"/><path d="M1,12 H7 L11,15 L15,12 H21"/></g></svg>
<div class="t" style="left:1505.5px;top:632.2px;width:80px;height:15px;line-height:15px;color:#333;font-size:13px">00:49AM</div>
<svg style="position:absolute;left:1656.7px;top:580.7px" width="22" height="22" viewBox="0 0 22 22"><circle cx="11" cy="11" r="9.6" fill="#fff" stroke="#111" stroke-width="1.2"/><path d="M11,1.4000000000000004 A9.6,9.6 0 0 0 11,20.6 A2.88,9.6 0 0 1 11,1.4000000000000004 Z" fill="#9a9a9a" stroke="#111" stroke-width="1.2"/></svg>
<svg style="position:absolute;left:1655.5px;top:614px" width="22" height="18" viewBox="0 0 22 18"><g fill="none" stroke="#222" stroke-width="1.3"><path d="M4.2,9.3 A6.8,6.8 0 1 1 17.8,9.3"/><path d="M1,12 H7 L11,9 L15,12 H21"/></g></svg>
<div class="t" style="left:1626.5px;top:632.2px;width:80px;height:15px;line-height:15px;color:#333;font-size:13px">1:37PM</div>
<div class="t" style="left:0.5px;top:583.5px;width:69px;height:17px;line-height:17px;color:#333;font-size:15px">Moon</div>
<div class="t" style="left:0.5px;top:611.5px;width:69px;height:17px;line-height:17px;color:#333;font-size:15px">Set</div>
<div class="t" style="left:0.5px;top:631.5px;width:69px;height:17px;line-height:17px;color:#333;font-size:15px">Rise</div>
<svg style="position:absolute;left:74.4px;top:651px" width="50" height="50" viewBox="-25 -25 50 50"><line x1="4.6" y1="2.0" x2="12.8" y2="5.7" stroke="#000" stroke-width="3.8"/><path d="M14.70,-0.57 L17.91,7.97 L9.42,11.31 Z" fill="#000"/><circle cx="0" cy="0" r="10.2" fill="#000"/></svg>
<div class="t" style="left:84.4px;top:668.0px;width:30px;height:16px;line-height:16px;color:#ffff00;font-size:14px;letter-spacing:-1px;text-indent:-1px">40</div>
<svg style="position:absolute;left:134.9px;top:651px" width="50" height="50" viewBox="-25 -25 50 50"><line x1="5.0" y1="0.0" x2="14.0" y2="0.0" stroke="#000" stroke-width="3.8"/><path d="M13.20,-6.50 L19.60,0.00 L13.20,6.50 Z" fill="#000"/><circle cx="0" cy="0" r="10.2" fill="#000"/></svg>
<div class="t" style="left:144.9px;top:668.0px;width:30px;height:16px;line-height:16px;color:#00ee00;font-size:14px;letter-spacing:-1px;text-indent:-1px">30</div>
<svg style="position:absolute;left:194.9px;top:651px" width="50" height="50" viewBox="-25 -25 50 50"><line x1="4.6" y1="2.0" x2="12.8" y2="5.7" stroke="#000" stroke-width="3.8"/><path d="M14.70,-0.57 L17.91,7.97 L9.42,11.31 Z" fill="#000"/><circle cx="0" cy="0" r="10.2" fill="#000"/></svg>
<div class="t" style="left:204.9px;top:668.0px;width:30px;height:16px;line-height:16px;color:#ffff00;font-size:14px;letter-spacing:-1px;text-indent:-1px">40</div>
<svg style="position:absolute;left:254.9px;top:651px" width="50" height="50" viewBox="-25 -25 50 50"><line x1="4.6" y1="2.0" x2="12.8" y2="5.7" stroke="#000" stroke-width="3.8"/><path d="M14.70,-0.57 L17.91,7.97 L9.42,11.31 Z" fill="#000"/><circle cx="0" cy="0" r="10.2" fill="#000"/></svg>
<div class="t" style="left:264.9px;top:668.0px;width:30px;height:16px;line-height:16px;color:#00ee00;font-size:14px;letter-spacing:-1px;text-indent:-1px">35</div>
<svg style="position:absolute;left:314.9px;top:651px" width="50" height="50" viewBox="-25 -25 50 50"><line x1="4.6" y1="2.0" x2="12.8" y2="5.7" stroke="#000" stroke-width="3.8"/><path d="M14.70,-0.57 L17.91,7.97 L9.42,11.31 Z" fill="#000"/><circle cx="0" cy="0" r="10.2" fill="#000"/></svg>
<div class="t" style="left:324.9px;top:668.0px;width:30px;height:16px;line-height:16px;color:#00ee00;font-size:14px;letter-spacing:-1px;text-indent:-1px">35</div>
<svg style="position:absolute;left:374.9px;top:651px" width="50" height="50" viewBox="-25 -25 50 50"><line x1="4.6" y1="2.0" x2="12.8" y2="5.7" stroke="#000" stroke-width="3.8"/><path d="M14.70,-0.57 L17.91,7.97 L9.42,11.31 Z" fill="#000"/><circle cx="0" cy="0" r="10.2" fill="#000"/></svg>
<div class="t" style="left:384.9px;top:668.0px;width:30px;height:16px;line-height:16px;color:#00ee00;font-size:14px;letter-spacing:-1px;text-indent:-1px">35</div>
<svg style="position:absolute;left:434.9px;top:651px" width="50" height="50" viewBox="-25 -25 50 50"><line x1="4.6" y1="2.0" x2="12.8" y2="5.7" stroke="#000" stroke-width="3.8"/><path d="M14.70,-0.57 L17.91,7.97 L9.42,11.31 Z" fill="#000"/><circle cx="0" cy="0" r="10.2" fill="#000"/></svg>
<div class="t" style="left:444.9px;top:668.0px;width:30px;height:16px;line-height:16px;color:#00ee00;font-size:14px;letter-spacing:-1px;text-indent:-1px">30</div>
<svg style="position:absolute;left:494.9px;top:651px" width="50" height="50" viewBox="-25 -25 50 50"><line x1="-5.0" y1="0.0" x2="-14.0" y2="0.0" stroke="#000" stroke-width="3.8"/><path d="M-13.20,6.50 L-19.60,0.00 L-13.20,-6.50 Z" fill="#000"/><circle cx="0" cy="0" r="10.2" fill="#000"/></svg>
<div class="t" style="left:504.9px;top:668.0px;width:30px;height:16px;line-height:16px;color:#ffffff;font-size:14px;letter-spacing:-1px;text-indent:-1px">15</div>
<svg style="position:absolute;left:554.9px;top:651px" width="50" height="50" viewBox="-25 -25 50 50"><line x1="-5.0" y1="0.0" x2="-14.0" y2="0.0" stroke="#000" stroke-width="3.8"/><path d="M-13.20,6.50 L-19.60,0.00 L-13.20,-6.50 Z" fill="#000"/><circle cx="0" cy="0" r="10.2" fill="#000"/></svg>
<div class="t" style="left:564.9px;top:668.0px;width:30px;height:16px;line-height:16px;color:#ffffff;font-size:14px;letter-spacing:-1px;text-indent:-1px">15</div>
<svg style="position:absolute;left:614.9px;top:651px" width="50" height="50" viewBox="-25 -25 50 50"><line x1="3.5" y1="3.5" x2="9.9" y2="9.9" stroke="#000" stroke-width="3.8"/><path d="M13.93,4.74 L13.86,13.86 L4.74,13.93 Z" fill="#000"/><circle cx="0" cy="0" r="10.2" fill="#000"/></svg>
<div class="t" style="left:624.9px;top:668.0px;width:30px;height:16px;line-height:16px;color:#ffffff;font-size:14px;letter-spacing:-1px;text-indent:-1px">10</div>
<svg style="position:absolute;left:674.9px;top:651px" width="50" height="50" viewBox="-25 -25 50 50"><line x1="4.6" y1="2.0" x2="12.8" y2="5.7" stroke="#000" stroke-width="3.8"/><path d="M14.70,-0.57 L17.91,7.97 L9.42,11.31 Z" fill="#000"/><circle cx="0" cy="0" r="10.2" fill="#000"/></svg>
<div class="t" style="left:684.9px;top:668.0px;width:30px;height:16px;line-height:16px;color:#00ee00;font-size:14px;letter-spacing:-1px;text-indent:-1px">35</div>
<svg style="position:absolute;left:734.9px;top:651px" width="50" height="50" viewBox="-25 -25 50 50"><line x1="4.6" y1="2.0" x2="12.8" y2="5.7" stroke="#000" stroke-width="3.8"/><path d="M14.70,-0.57 L17.91,7.97 L9.42,11.31 Z" fill="#000"/><circle cx="0" cy="0" r="10.2" fill="#000"/></svg>
<div class="t" style="left:744.9px;top:668.0px;width:30px;height:16px;line-height:16px;color:#00ee00;font-size:14px;letter-spacing:-1px;text-indent:-1px">35</div>
<svg style="position:absolute;left:794.9px;top:651px" width="50" height="50" viewBox="-25 -25 50 50"><line x1="4.6" y1="2.0" x2="12.8" y2="5.7" stroke="#000" stroke-width="3.8"/><path d="M14.70,-0.57 L17.91,7.97 L9.42,11.31 Z" fill="#000"/><circle cx="0" cy="0" r="10.2" fill="#000"/></svg>
<div class="t" style="left:804.9px;top:668.0px;width:30px;height:16px;line-height:16px;color:#00ee00;font-size:14px;letter-spacing:-1px;text-indent:-1px">35</div>
<svg style="position:absolute;left:855.1px;top:651px" width="50" height="50" viewBox="-25 -25 50 50"><line x1="5.0" y1="0.0" x2="14.0" y2="0.0" stroke="#000" stroke-width="3.8"/><path d="M13.20,-6.50 L19.60,0.00 L13.20,6.50 Z" fill="#000"/><circle cx="0" cy="0" r="10.2" fill="#000"/></svg>
<div class="t" style="left:865.1px;top:668.0px;width:30px;height:16px;line-height:16px;color:#00ee00;font-size:14px;letter-spacing:-1px;text-indent:-1px">35</div>
<svg style="position:absolute;left:915.6px;top:651px" width="50" height="50" viewBox="-25 -25 50 50"><line x1="3.5" y1="-3.5" x2="9.9" y2="-9.9" stroke="#000" stroke-width="3.8"/><path d="M4.74,-13.93 L13.86,-13.86 L13.93,-4.74 Z" fill="#000"/><circle cx="0" cy="0" r="10.2" fill="#000"/></svg>
<div class="t" style="left:925.6px;top:668.0px;width:30px;height:16px;line-height:16px;color:#00ee00;font-size:14px;letter-spacing:-1px;text-indent:-1px">35</div>
<svg style="position:absolute;left:975.6px;top:651px" width="50" height="50" viewBox="-25 -25 50 50"><line x1="5.0" y1="0.0" x2="14.0" y2="0.0" stroke="#000" stroke-width="3.8"/><path d="M13.20,-6.50 L19.60,0.00 L13.20,6.50 Z" fill="#000"/><circle cx="0" cy="0" r="10.2" fill="#000"/></svg>
<div class="t" style="left:985.6px;top:668.0px;width:30px;height:16px;line-height:16px;color:#00ee00;font-size:14px;letter-spacing:-1px;text-indent:-1px">20</div>
<svg style="position:absolute;left:1035.7px;top:651px" width="50" height="50" viewBox="-25 -25 50 50"><line x1="5.0" y1="0.0" x2="14.0" y2="0.0" stroke="#000" stroke-width="3.8"/><path d="M13.20,-6.50 L19.60,0.00 L13.20,6.50 Z" fill="#000"/><circle cx="0" cy="0" r="10.2" fill="#000"/></svg>
<div class="t" style="left:1045.7px;top:668.0px;width:30px;height:16px;line-height:16px;color:#00ee00;font-size:14px;letter-spacing:-1px;text-indent:-1px">20</div>
<svg style="position:absolute;left:1095.9px;top:651px" width="50" height="50" viewBox="-25 -25 50 50"><line x1="5.0" y1="0.0" x2="14.0" y2="0.0" stroke="#000" stroke-width="3.8"/><path d="M13.20,-6.50 L19.60,0.00 L13.20,6.50 Z" fill="#000"/><circle cx="0" cy="0" r="10.2" fill="#000"/></svg>
<div class="t" style="left:1105.9px;top:668.0px;width:30px;height:16px;line-height:16px;color:#ffffff;font-size:14px;letter-spacing:-1px;text-indent:-1px">15</div>
<svg style="position:absolute;left:1155.9px;top:651px" width="50" height="50" viewBox="-25 -25 50 50"><line x1="4.4" y1="2.3" x2="12.4" y2="6.6" stroke="#000" stroke-width="3.8"/><path d="M14.71,0.46 L17.31,9.20 L8.60,11.94 Z" fill="#000"/><circle cx="0" cy="0" r="10.2" fill="#000"/></svg>
<div class="t" style="left:1165.9px;top:668.0px;width:30px;height:16px;line-height:16px;color:#ffffff;font-size:14px;letter-spacing:-1px;text-indent:-1px">5</div>
<svg style="position:absolute;left:1215.9px;top:651px" width="50" height="50" viewBox="-25 -25 50 50"><line x1="4.6" y1="2.0" x2="12.8" y2="5.7" stroke="#000" stroke-width="3.8"/><path d="M14.70,-0.57 L17.91,7.97 L9.42,11.31 Z" fill="#000"/><circle cx="0" cy="0" r="10.2" fill="#000"/></svg>
<div class="t" style="left:1225.9px;top:668.0px;width:30px;height:16px;line-height:16px;color:#00ee00;font-size:14px;letter-spacing:-1px;text-indent:-1px">25</div>
<svg style="position:absolute;left:1276.9px;top:651px" width="50" height="50" viewBox="-25 -25 50 50"><line x1="4.6" y1="2.0" x2="12.8" y2="5.7" stroke="#000" stroke-width="3.8"/><path d="M14.70,-0.57 L17.91,7.97 L9.42,11.31 Z" fill="#000"/><circle cx="0" cy="0" r="10.2" fill="#000"/></svg>
<div class="t" style="left:1286.9px;top:668.0px;width:30px;height:16px;line-height:16px;color:#00ee00;font-size:14px;letter-spacing:-1px;text-indent:-1px">25</div>
<svg style="position:absolute;left:1337.9px;top:651px" width="50" height="50" viewBox="-25 -25 50 50"><line x1="4.6" y1="2.0" x2="12.8" y2="5.7" stroke="#000" stroke-width="3.8"/><path d="M14.70,-0.57 L17.91,7.97 L9.42,11.31 Z" fill="#000"/><circle cx="0" cy="0" r="10.2" fill="#000"/></svg>
<div class="t" style="left:1347.9px;top:668.0px;width:30px;height:16px;line-height:16px;color:#00ee00;font-size:14px;letter-spacing:-1px;text-indent:-1px">30</div>
<svg style="position:absolute;left:1398.4px;top:651px" width="50" height="50" viewBox="-25 -25 50 50"><line x1="-4.3" y1="-2.6" x2="-12.0" y2="-7.2" stroke="#000" stroke-width="3.8"/><path d="M-14.66,-1.23 L-16.80,-10.09 L-7.97,-12.37 Z" fill="#000"/><circle cx="0" cy="0" r="10.2" fill="#000"/></svg>
<div class="t" style="left:1408.4px;top:668.0px;width:30px;height:16px;line-height:16px;color:#ffffff;font-size:14px;letter-spacing:-1px;text-indent:-1px">5</div>
<svg style="position:absolute;left:1458.9px;top:651px" width="50" height="50" viewBox="-25 -25 50 50"><line x1="5.0" y1="0.0" x2="14.0" y2="0.0" stroke="#000" stroke-width="3.8"/><path d="M13.20,-6.50 L19.60,0.00 L13.20,6.50 Z" fill="#000"/><circle cx="0" cy="0" r="10.2" fill="#000"/></svg>
<div class="t" style="left:1468.9px;top:668.0px;width:30px;height:16px;line-height:16px;color:#00ee00;font-size:14px;letter-spacing:-1px;text-indent:-1px">20</div>
<svg style="position:absolute;left:1519.9px;top:651px" width="50" height="50" viewBox="-25 -25 50 50"><line x1="5.0" y1="0.0" x2="14.0" y2="0.0" stroke="#000" stroke-width="3.8"/><path d="M13.20,-6.50 L19.60,0.00 L13.20,6.50 Z" fill="#000"/><circle cx="0" cy="0" r="10.2" fill="#000"/></svg>
<div class="t" style="left:1529.9px;top:668.0px;width:30px;height:16px;line-height:16px;color:#00ee00;font-size:14px;letter-spacing:-1px;text-indent:-1px">20</div>
<svg style="position:absolute;left:1580.9px;top:651px" width="50" height="50" viewBox="-25 -25 50 50"><line x1="5.0" y1="0.0" x2="14.0" y2="0.0" stroke="#000" stroke-width="3.8"/><path d="M13.20,-6.50 L19.60,0.00 L13.20,6.50 Z" fill="#000"/><circle cx="0" cy="0" r="10.2" fill="#000"/></svg>
<div class="t" style="left:1590.9px;top:668.0px;width:30px;height:16px;line-height:16px;color:#00ee00;font-size:14px;letter-spacing:-1px;text-indent:-1px">20</div>
<svg style="position:absolute;left:1640.9px;top:651px" width="50" height="50" viewBox="-25 -25 50 50"><line x1="3.6" y1="-3.5" x2="10.1" y2="-9.7" stroke="#000" stroke-width="3.8"/><path d="M4.98,-13.85 L14.10,-13.62 L14.01,-4.49 Z" fill="#000"/><circle cx="0" cy="0" r="10.2" fill="#000"/></svg>
<div class="t" style="left:1650.9px;top:668.0px;width:30px;height:16px;line-height:16px;color:#ffffff;font-size:14px;letter-spacing:-1px;text-indent:-1px">10</div>
<svg style="position:absolute;left:1701.4px;top:651px" width="50" height="50" viewBox="-25 -25 50 50"><line x1="-2.0" y1="-4.6" x2="-5.5" y2="-12.9" stroke="#000" stroke-width="3.8"/><path d="M-11.14,-9.61 L-7.66,-18.04 L0.83,-14.69 Z" fill="#000"/><circle cx="0" cy="0" r="10.2" fill="#000"/></svg>
<div class="t" style="left:1711.4px;top:668.0px;width:30px;height:16px;line-height:16px;color:#ffffff;font-size:14px;letter-spacing:-1px;text-indent:-1px">15</div>
<div class="t" style="left:0.5px;top:658.8px;width:69px;height:17px;line-height:17px;color:#333;font-size:15px">Wind</div>
<div class="t" style="left:0.5px;top:675.0px;width:69px;height:17px;line-height:17px;color:#333;font-size:15px">(<span style="color:#3a7cc0;text-decoration:underline">km/h</span>)</div>
<div style="position:absolute;left:69px;top:409px;width:1px;height:117px;background:#7d7d7d"></div>
<div style="position:absolute;left:69px;top:528px;width:1px;height:45px;background:#7d7d7d"></div>
<div style="position:absolute;left:69px;top:574px;width:1px;height:78px;background:#7d7d7d"></div>
<div style="position:absolute;left:69px;top:653px;width:1px;height:47px;background:#7d7d7d"></div>
<div style="position:absolute;left:69px;top:700px;width:1px;height:59px;background:#7d7d7d"></div>
<div style="position:absolute;left:130px;top:409px;width:1px;height:117px;background:#e9eef3"></div>
<div style="position:absolute;left:130px;top:528px;width:1px;height:45px;background:#eeeee0"></div>
<div style="position:absolute;left:130px;top:574px;width:1px;height:78px;background:#eeeeee"></div>
<div style="position:absolute;left:130px;top:653px;width:1px;height:47px;background:#eeeeee"></div>
<div style="position:absolute;left:190px;top:409px;width:1px;height:117px;background:#e9eef3"></div>
<div style="position:absolute;left:190px;top:528px;width:1px;height:45px;background:#eeeee0"></div>
<div style="position:absolute;left:190px;top:574px;width:1px;height:78px;background:#eeeeee"></div>
<div style="position:absolute;left:190px;top:653px;width:1px;height:47px;background:#eeeeee"></div>
<div style="position:absolute;left:250px;top:409px;width:1px;height:117px;background:#e9eef3"></div>
<div style="position:absolute;left:250px;top:528px;width:1px;height:45px;background:#eeeee0"></div>
<div style="position:absolute;left:250px;top:574px;width:1px;height:78px;background:#eeeeee"></div>
<div style="position:absolute;left:250px;top:653px;width:1px;height:47px;background:#eeeeee"></div>
<div style="position:absolute;left:310px;top:409px;width:1px;height:117px;background:#7d7d7d"></div>
<div style="position:absolute;left:310px;top:528px;width:1px;height:45px;background:#7d7d7d"></div>
<div style="position:absolute;left:310px;top:574px;width:1px;height:78px;background:#7d7d7d"></div>
<div style="position:absolute;left:310px;top:653px;width:1px;height:47px;background:#7d7d7d"></div>
<div style="position:absolute;left:310px;top:700px;width:1px;height:59px;background:#7d7d7d"></div>
<div style="position:absolute;left:370px;top:409px;width:1px;height:117px;background:#e9eef3"></div>
<div style="position:absolute;left:370px;top:528px;width:1px;height:45px;background:#eeeee0"></div>
<div style="position:absolute;left:370px;top:574px;width:1px;height:78px;background:#eeeeee"></div>
<div style="position:absolute;left:370px;top:653px;width:1px;height:47px;background:#eeeeee"></div>
<div style="position:absolute;left:430px;top:409px;width:1px;height:117px;background:#e9eef3"></div>
<div style="position:absolute;left:430px;top:528px;width:1px;height:45px;background:#eeeee0"></div>
<div style="position:absolute;left:430px;top:574px;width:1px;height:78px;background:#eeeeee"></div>
<div style="position:absolute;left:430px;top:653px;width:1px;height:47px;background:#eeeeee"></div>
<div style="position:absolute;left:490px;top:409px;width:1px;height:117px;background:#e9eef3"></div>
<div style="position:absolute;left:490px;top:528px;width:1px;height:45px;background:#eeeee0"></div>
<div style="position:absolute;left:490px;top:574px;width:1px;height:78px;background:#eeeeee"></div>
<div style="position:absolute;left:490px;top:653px;width:1px;height:47px;background:#eeeeee"></div>
<div style="position:absolute;left:550px;top:409px;width:1px;height:117px;background:#7d7d7d"></div>
<div style="position:absolute;left:550px;top:528px;width:1px;height:45px;background:#7d7d7d"></div>
<div style="position:absolute;left:550px;top:574px;width:1px;height:78px;background:#7d7d7d"></div>
<div style="position:absolute;left:550px;top:653px;width:1px;height:47px;background:#7d7d7d"></div>
<div style="position:absolute;left:550px;top:700px;width:1px;height:59px;background:#7d7d7d"></div>
<div style="position:absolute;left:610px;top:409px;width:1px;height:117px;background:#e9eef3"></div>
<div style="position:absolute;left:610px;top:528px;width:1px;height:45px;background:#eeeee0"></div>
<div style="position:absolute;left:610px;top:574px;width:1px;height:78px;background:#eeeeee"></div>
<div style="position:absolute;left:610px;top:653px;width:1px;height:47px;background:#eeeeee"></div>
<div style="position:absolute;left:670px;top:409px;width:1px;height:117px;background:#e9eef3"></div>
<div style="position:absolute;left:670px;top:528px;width:1px;height:45px;background:#eeeee0"></div>
<div style="position:absolute;left:670px;top:574px;width:1px;height:78px;background:#eeeeee"></div>
<div style="position:absolute;left:670px;top:653px;width:1px;height:47px;background:#eeeeee"></div>
<div style="position:absolute;left:730px;top:409px;width:1px;height:117px;background:#e9eef3"></div>
<div style="position:absolute;left:730px;top:528px;width:1px;height:45px;background:#eeeee0"></div>
<div style="position:absolute;left:730px;top:574px;width:1px;height:78px;background:#eeeeee"></div>
<div style="position:absolute;left:730px;top:653px;width:1px;height:47px;background:#eeeeee"></div>
<div style="position:absolute;left:790px;top:409px;width:1px;height:117px;background:#7d7d7d"></div>
<div style="position:absolute;left:790px;top:528px;width:1px;height:45px;background:#7d7d7d"></div>
<div style="position:absolute;left:790px;top:574px;width:1px;height:78px;background:#7d7d7d"></div>
<div style="position:absolute;left:790px;top:653px;width:1px;height:47px;background:#7d7d7d"></div>
<div style="position:absolute;left:790px;top:700px;width:1px;height:59px;background:#7d7d7d"></div>
<div style="position:absolute;left:850px;top:409px;width:1px;height:117px;background:#e9eef3"></div>
<div style="position:absolute;left:850px;top:528px;width:1px;height:45px;background:#eeeee0"></div>
<div style="position:absolute;left:850px;top:574px;width:1px;height:78px;background:#eeeeee"></div>
<div style="position:absolute;left:850px;top:653px;width:1px;height:47px;background:#eeeeee"></div>
<div style="position:absolute;left:911px;top:409px;width:1px;height:117px;background:#e9eef3"></div>
<div style="position:absolute;left:911px;top:528px;width:1px;height:45px;background:#eeeee0"></div>
<div style="position:absolute;left:911px;top:574px;width:1px;height:78px;background:#eeeeee"></div>
<div style="position:absolute;left:911px;top:653px;width:1px;height:47px;background:#eeeeee"></div>
<div style="position:absolute;left:971px;top:409px;width:1px;height:117px;background:#e9eef3"></div>
<div style="position:absolute;left:971px;top:528px;width:1px;height:45px;background:#eeeee0"></div>
<div style="position:absolute;left:971px;top:574px;width:1px;height:78px;background:#eeeeee"></div>
<div style="position:absolute;left:971px;top:653px;width:1px;height:47px;background:#eeeeee"></div>
<div style="position:absolute;left:1031px;top:409px;width:1px;height:117px;background:#7d7d7d"></div>
<div style="position:absolute;left:1031px;top:528px;width:1px;height:45px;background:#7d7d7d"></div>
<div style="position:absolute;left:1031px;top:574px;width:1px;height:78px;background:#7d7d7d"></div>
<div style="position:absolute;left:1031px;top:653px;width:1px;height:47px;background:#7d7d7d"></div>
<div style="position:absolute;left:1031px;top:700px;width:1px;height:59px;background:#7d7d7d"></div>
<div style="position:absolute;left:1091px;top:409px;width:1px;height:117px;background:#e9eef3"></div>
<div style="position:absolute;left:1091px;top:528px;width:1px;height:45px;background:#eeeee0"></div>
<div style="position:absolute;left:1091px;top:574px;width:1px;height:78px;background:#eeeeee"></div>
<div style="position:absolute;left:1091px;top:653px;width:1px;height:47px;background:#eeeeee"></div>
<div style="position:absolute;left:1151px;top:409px;width:1px;height:117px;background:#e9eef3"></div>
<div style="position:absolute;left:1151px;top:528px;width:1px;height:45px;background:#eeeee0"></div>
<div style="position:absolute;left:1151px;top:574px;width:1px;height:78px;background:#eeeeee"></div>
<div style="position:absolute;left:1151px;top:653px;width:1px;height:47px;background:#eeeeee"></div>
<div style="position:absolute;left:1211px;top:409px;width:1px;height:117px;background:#e9eef3"></div>
<div style="position:absolute;left:1211px;top:528px;width:1px;height:45px;background:#eeeee0"></div>
<div style="position:absolute;left:1211px;top:574px;width:1px;height:78px;background:#eeeeee"></div>
<div style="position:absolute;left:1211px;top:653px;width:1px;height:47px;background:#eeeeee"></div>
<div style="position:absolute;left:1271px;top:409px;width:1px;height:117px;background:#7d7d7d"></div>
<div style="position:absolute;left:1271px;top:528px;width:1px;height:45px;background:#7d7d7d"></div>
<div style="position:absolute;left:1271px;top:574px;width:1px;height:78px;background:#7d7d7d"></div>
<div style="position:absolute;left:1271px;top:653px;width:1px;height:47px;background:#7d7d7d"></div>
<div style="position:absolute;left:1271px;top:700px;width:1px;height:59px;background:#7d7d7d"></div>
<div style="position:absolute;left:1333px;top:409px;width:1px;height:117px;background:#e9eef3"></div>
<div style="position:absolute;left:1333px;top:528px;width:1px;height:45px;background:#eeeee0"></div>
<div style="position:absolute;left:1333px;top:574px;width:1px;height:78px;background:#eeeeee"></div>
<div style="position:absolute;left:1333px;top:653px;width:1px;height:47px;background:#eeeeee"></div>
<div style="position:absolute;left:1393px;top:409px;width:1px;height:117px;background:#e9eef3"></div>
<div style="position:absolute;left:1393px;top:528px;width:1px;height:45px;background:#eeeee0"></div>
<div style="position:absolute;left:1393px;top:574px;width:1px;height:78px;background:#eeeeee"></div>
<div style="position:absolute;left:1393px;top:653px;width:1px;height:47px;background:#eeeeee"></div>
<div style="position:absolute;left:1454px;top:409px;width:1px;height:117px;background:#e9eef3"></div>
<div style="position:absolute;left:1454px;top:528px;width:1px;height:45px;background:#eeeee0"></div>
<div style="position:absolute;left:1454px;top:574px;width:1px;height:78px;background:#eeeeee"></div>
<div style="position:absolute;left:1454px;top:653px;width:1px;height:47px;background:#eeeeee"></div>
<div style="position:absolute;left:1514px;top:409px;width:1px;height:117px;background:#7d7d7d"></div>
<div style="position:absolute;left:1514px;top:528px;width:1px;height:45px;background:#7d7d7d"></div>
<div style="position:absolute;left:1514px;top:574px;width:1px;height:78px;background:#7d7d7d"></div>
<div style="position:absolute;left:1514px;top:653px;width:1px;height:47px;background:#7d7d7d"></div>
<div style="position:absolute;left:1514px;top:700px;width:1px;height:59px;background:#7d7d7d"></div>
<div style="position:absolute;left:1576px;top:409px;width:1px;height:117px;background:#e9eef3"></div>
<div style="position:absolute;left:1576px;top:528px;width:1px;height:45px;background:#eeeee0"></div>
<div style="position:absolute;left:1576px;top:574px;width:1px;height:78px;background:#eeeeee"></div>
<div style="position:absolute;left:1576px;top:653px;width:1px;height:47px;background:#eeeeee"></div>
<div style="position:absolute;left:1636px;top:409px;width:1px;height:117px;background:#e9eef3"></div>
<div style="position:absolute;left:1636px;top:528px;width:1px;height:45px;background:#eeeee0"></div>
<div style="position:absolute;left:1636px;top:574px;width:1px;height:78px;background:#eeeeee"></div>
<div style="position:absolute;left:1636px;top:653px;width:1px;height:47px;background:#eeeeee"></div>
<div style="position:absolute;left:1696px;top:409px;width:1px;height:117px;background:#e9eef3"></div>
<div style="position:absolute;left:1696px;top:528px;width:1px;height:45px;background:#eeeee0"></div>
<div style="position:absolute;left:1696px;top:574px;width:1px;height:78px;background:#eeeeee"></div>
<div style="position:absolute;left:1696px;top:653px;width:1px;height:47px;background:#eeeeee"></div>
<div style="position:absolute;left:1757px;top:409px;width:1px;height:117px;background:#7d7d7d"></div>
<div style="position:absolute;left:1757px;top:528px;width:1px;height:45px;background:#7d7d7d"></div>
<div style="position:absolute;left:1757px;top:574px;width:1px;height:78px;background:#7d7d7d"></div>
<div style="position:absolute;left:1757px;top:653px;width:1px;height:47px;background:#7d7d7d"></div>
<div style="position:absolute;left:1757px;top:700px;width:1px;height:59px;background:#7d7d7d"></div>
<div style="position:absolute;left:69px;top:122px;width:1px;height:665px;background:#777"></div>
<div style="position:absolute;left:69px;top:98px;width:1px;height:24px;background:#22384c"></div>
<svg style="position:absolute;left:70px;top:700px" width="60" height="59" viewBox="0 0 60 59" preserveAspectRatio="none"><use href="#wA"/></svg>
<svg style="position:absolute;left:131px;top:700px" width="59" height="59" viewBox="0 0 60 59" preserveAspectRatio="none"><use href="#wA"/></svg>
<svg style="position:absolute;left:191px;top:700px" width="59" height="59" viewBox="0 0 60 59" preserveAspectRatio="none"><use href="#wA"/></svg>
<svg style="position:absolute;left:251px;top:700px" width="59" height="59" viewBox="0 0 60 59" preserveAspectRatio="none"><use href="#wN"/></svg>
<svg style="position:absolute;left:311px;top:700px" width="59" height="59" viewBox="0 0 60 59" preserveAspectRatio="none"><use href="#wN"/></svg>
<svg style="position:absolute;left:371px;top:700px" width="59" height="59" viewBox="0 0 60 59" preserveAspectRatio="none"><use href="#wG"/></svg>
<svg style="position:absolute;left:431px;top:700px" width="59" height="59" viewBox="0 0 60 59" preserveAspectRatio="none"><use href="#wR"/></svg>
<svg style="position:absolute;left:491px;top:700px" width="59" height="59" viewBox="0 0 60 59" preserveAspectRatio="none"><use href="#wMR"/></svg>
<svg style="position:absolute;left:551px;top:700px" width="59" height="59" viewBox="0 0 60 59" preserveAspectRatio="none"><use href="#wMR"/></svg>
<svg style="position:absolute;left:611px;top:700px" width="59" height="59" viewBox="0 0 60 59" preserveAspectRatio="none"><use href="#wR"/></svg>
<svg style="position:absolute;left:671px;top:700px" width="59" height="59" viewBox="0 0 60 59" preserveAspectRatio="none"><use href="#wG"/></svg>
<svg style="position:absolute;left:731px;top:700px" width="59" height="59" viewBox="0 0 60 59" preserveAspectRatio="none"><use href="#wMR"/></svg>
<svg style="position:absolute;left:791px;top:700px" width="59" height="59" viewBox="0 0 60 59" preserveAspectRatio="none"><use href="#wMR"/></svg>
<svg style="position:absolute;left:851px;top:700px" width="60" height="59" viewBox="0 0 60 59" preserveAspectRatio="none"><use href="#wA"/></svg>
<svg style="position:absolute;left:912px;top:700px" width="59" height="59" viewBox="0 0 60 59" preserveAspectRatio="none"><use href="#wA"/></svg>
<svg style="position:absolute;left:972px;top:700px" width="59" height="59" viewBox="0 0 60 59" preserveAspectRatio="none"><use href="#wMC"/></svg>
<svg style="position:absolute;left:1032px;top:700px" width="59" height="59" viewBox="0 0 60 59" preserveAspectRatio="none"><use href="#wMC"/></svg>
<svg style="position:absolute;left:1092px;top:700px" width="59" height="59" viewBox="0 0 60 59" preserveAspectRatio="none"><use href="#wA"/></svg>
<svg style="position:absolute;left:1152px;top:700px" width="59" height="59" viewBox="0 0 60 59" preserveAspectRatio="none"><use href="#wG"/></svg>
<svg style="position:absolute;left:1212px;top:700px" width="59" height="59" viewBox="0 0 60 59" preserveAspectRatio="none"><use href="#wN"/></svg>
<svg style="position:absolute;left:1272px;top:700px" width="61" height="59" viewBox="0 0 60 59" preserveAspectRatio="none"><use href="#wN"/></svg>
<svg style="position:absolute;left:1334px;top:700px" width="59" height="59" viewBox="0 0 60 59" preserveAspectRatio="none"><use href="#wA"/></svg>
<svg style="position:absolute;left:1394px;top:700px" width="60" height="59" viewBox="0 0 60 59" preserveAspectRatio="none"><use href="#wR"/></svg>
<svg style="position:absolute;left:1455px;top:700px" width="59" height="59" viewBox="0 0 60 59" preserveAspectRatio="none"><use href="#wMR"/></svg>
<svg style="position:absolute;left:1515px;top:700px" width="61" height="59" viewBox="0 0 60 59" preserveAspectRatio="none"><use href="#wMR"/></svg>
<svg style="position:absolute;left:1577px;top:700px" width="59" height="59" viewBox="0 0 60 59" preserveAspectRatio="none"><use href="#wA"/></svg>
<svg style="position:absolute;left:1637px;top:700px" width="59" height="59" viewBox="0 0 60 59" preserveAspectRatio="none"><use href="#wG"/></svg>
<svg style="position:absolute;left:1697px;top:700px" width="60" height="59" viewBox="0 0 60 59" preserveAspectRatio="none"><use href="#wMR"/></svg>
<div style="position:absolute;left:70px;top:760px;width:1682px;height:27px;overflow:hidden">
<div class="t" style="left:-44.4px;top:5px;height:18px;line-height:18px;text-align:left;white-space:nowrap;font-size:15px;letter-spacing:0.4px;color:#e2e2e2">Powered by Tide-Forecast.com</div><svg style="position:absolute;left:183.6px;top:6px" width="54" height="16" viewBox="0 0 54 16"><rect x="0" y="0" width="16" height="15.5" fill="#e6e6e6"/><rect x="18.5" y="0" width="15.5" height="15.5" fill="#e6e6e6"/><rect x="37" y="0" width="16" height="16" fill="#e6e6e6"/><path d="M0.8,1.5 C2,-0.5 3,0 4,3 L6.5,12 C7.5,14.5 8.5,14.5 9.5,12 L11.5,4 C12.5,0.5 14,0.5 15,4" fill="none" stroke="#fafafa" stroke-width="1.1"/><path d="M19,6.5 H26 C28,6.5 28.5,7.5 28.5,9 V11" fill="none" stroke="#fafafa" stroke-width="2"/><path d="M25.5,10 L28.5,13 L31.5,10" fill="none" stroke="#fafafa" stroke-width="1.8"/><path d="M45,1.5 L48.5,14 H41.5 Z" fill="#fafafa"/></svg>
<div class="t" style="left:295.6px;top:5px;height:18px;line-height:18px;text-align:left;white-space:nowrap;font-size:15px;letter-spacing:0.4px;color:#e2e2e2">Powered by Tide-Forecast.com</div><svg style="position:absolute;left:523.6px;top:6px" width="54" height="16" viewBox="0 0 54 16"><rect x="0" y="0" width="16" height="15.5" fill="#e6e6e6"/><rect x="18.5" y="0" width="15.5" height="15.5" fill="#e6e6e6"/><rect x="37" y="0" width="16" height="16" fill="#e6e6e6"/><path d="M0.8,1.5 C2,-0.5 3,0 4,3 L6.5,12 C7.5,14.5 8.5,14.5 9.5,12 L11.5,4 C12.5,0.5 14,0.5 15,4" fill="none" stroke="#fafafa" stroke-width="1.1"/><path d="M19,6.5 H26 C28,6.5 28.5,7.5 28.5,9 V11" fill="none" stroke="#fafafa" stroke-width="2"/><path d="M25.5,10 L28.5,13 L31.5,10" fill="none" stroke="#fafafa" stroke-width="1.8"/><path d="M45,1.5 L48.5,14 H41.5 Z" fill="#fafafa"/></svg>
<div class="t" style="left:635.6px;top:5px;height:18px;line-height:18px;text-align:left;white-space:nowrap;font-size:15px;letter-spacing:0.4px;color:#e2e2e2">Powered by Tide-Forecast.com</div><svg style="position:absolute;left:863.6px;top:6px" width="54" height="16" viewBox="0 0 54 16"><rect x="0" y="0" width="16" height="15.5" fill="#e6e6e6"/><rect x="18.5" y="0" width="15.5" height="15.5" fill="#e6e6e6"/><rect x="37" y="0" width="16" height="16" fill="#e6e6e6"/><path d="M0.8,1.5 C2,-0.5 3,0 4,3 L6.5,12 C7.5,14.5 8.5,14.5 9.5,12 L11.5,4 C12.5,0.5 14,0.5 15,4" fill="none" stroke="#fafafa" stroke-width="1.1"/><path d="M19,6.5 H26 C28,6.5 28.5,7.5 28.5,9 V11" fill="none" stroke="#fafafa" stroke-width="2"/><path d="M25.5,10 L28.5,13 L31.5,10" fill="none" stroke="#fafafa" stroke-width="1.8"/><path d="M45,1.5 L48.5,14 H41.5 Z" fill="#fafafa"/></svg>
<div class="t" style="left:975.5999999999999px;top:5px;height:18px;line-height:18px;text-align:left;white-space:nowrap;font-size:15px;letter-spacing:0.4px;color:#e2e2e2">Powered by Tide-Forecast.com</div><svg style="position:absolute;left:1203.6px;top:6px" width="54" height="16" viewBox="0 0 54 16"><rect x="0" y="0" width="16" height="15.5" fill="#e6e6e6"/><rect x="18.5" y="0" width="15.5" height="15.5" fill="#e6e6e6"/><rect x="37" y="0" width="16" height="16" fill="#e6e6e6"/><path d="M0.8,1.5 C2,-0.5 3,0 4,3 L6.5,12 C7.5,14.5 8.5,14.5 9.5,12 L11.5,4 C12.5,0.5 14,0.5 15,4" fill="none" stroke="#fafafa" stroke-width="1.1"/><path d="M19,6.5 H26 C28,6.5 28.5,7.5 28.5,9 V11" fill="none" stroke="#fafafa" stroke-width="2"/><path d="M25.5,10 L28.5,13 L31.5,10" fill="none" stroke="#fafafa" stroke-width="1.8"/><path d="M45,1.5 L48.5,14 H41.5 Z" fill="#fafafa"/></svg>
<div class="t" style="left:1315.6px;top:5px;height:18px;line-height:18px;text-align:left;white-space:nowrap;font-size:15px;letter-spacing:0.4px;color:#e2e2e2">Powered by Tide-Forecast.com</div><svg style="position:absolute;left:1543.6px;top:6px" width="54" height="16" viewBox="0 0 54 16"><rect x="0" y="0" width="16" height="15.5" fill="#e6e6e6"/><rect x="18.5" y="0" width="15.5" height="15.5" fill="#e6e6e6"/><rect x="37" y="0" width="16" height="16" fill="#e6e6e6"/><path d="M0.8,1.5 C2,-0.5 3,0 4,3 L6.5,12 C7.5,14.5 8.5,14.5 9.5,12 L11.5,4 C12.5,0.5 14,0.5 15,4" fill="none" stroke="#fafafa" stroke-width="1.1"/><path d="M19,6.5 H26 C28,6.5 28.5,7.5 28.5,9 V11" fill="none" stroke="#fafafa" stroke-width="2"/><path d="M25.5,10 L28.5,13 L31.5,10" fill="none" stroke="#fafafa" stroke-width="1.8"/><path d="M45,1.5 L48.5,14 H41.5 Z" fill="#fafafa"/></svg>
<div class="t" style="left:1655.6px;top:5px;height:18px;line-height:18px;text-align:left;white-space:nowrap;font-size:15px;letter-spacing:0.4px;color:#e2e2e2">Powered by Tide-Forecast.com</div><svg style="position:absolute;left:1883.6px;top:6px" width="54" height="16" viewBox="0 0 54 16"><rect x="0" y="0" width="16" height="15.5" fill="#e6e6e6"/><rect x="18.5" y="0" width="15.5" height="15.5" fill="#e6e6e6"/><rect x="37" y="0" width="16" height="16" fill="#e6e6e6"/><path d="M0.8,1.5 C2,-0.5 3,0 4,3 L6.5,12 C7.5,14.5 8.5,14.5 9.5,12 L11.5,4 C12.5,0.5 14,0.5 15,4" fill="none" stroke="#fafafa" stroke-width="1.1"/><path d="M19,6.5 H26 C28,6.5 28.5,7.5 28.5,9 V11" fill="none" stroke="#fafafa" stroke-width="2"/><path d="M25.5,10 L28.5,13 L31.5,10" fill="none" stroke="#fafafa" stroke-width="1.8"/><path d="M45,1.5 L48.5,14 H41.5 Z" fill="#fafafa"/></svg>
</div>
</body></html>
